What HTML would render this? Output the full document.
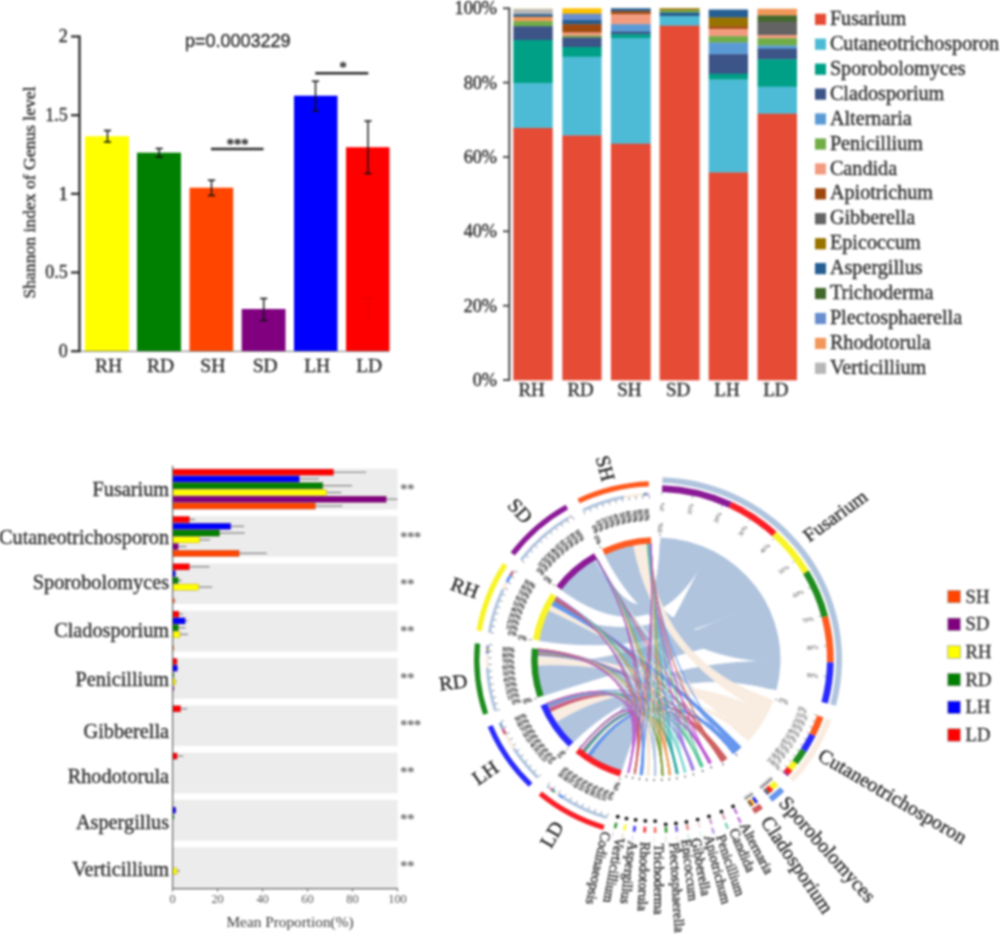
<!DOCTYPE html>
<html lang="en"><head><meta charset="utf-8"><title>Fungal community figure</title>
<style>
html,body{margin:0;padding:0;background:#fff;}
body{width:1000px;height:937px;overflow:hidden;}
svg{display:block;font-family:"Liberation Serif", serif;filter:blur(0.8px);}
#panelA text,#panelB text,#panelC text,#legendD text,#chord text.lab{stroke:#2a2a2a;stroke-width:0.36px;}
#panelC text.thin{stroke:none;}
</style></head><body>
<svg width="1000" height="937" viewBox="0 0 1000 937">
<rect width="1000" height="937" fill="#fff"/>
<g id="panelA">
<rect x="85" y="136.2" width="44.0" height="215.0" fill="#ffff00"/>
<rect x="137" y="152.7" width="44.0" height="198.5" fill="#008000"/>
<rect x="189.5" y="187.7" width="43.7" height="163.5" fill="#ff4500"/>
<rect x="241.7" y="309" width="43.8" height="42.2" fill="#800080"/>
<rect x="294" y="95.7" width="43.5" height="255.5" fill="#0000ff"/>
<rect x="346" y="147.2" width="43.5" height="204.0" fill="#ff0000"/>
<line x1="80" y1="351.3" x2="389.5" y2="351.3" stroke="#777" stroke-width="1"/>
<path d="M362.5 298.5H373.5M368 298.5V320" stroke="#e00000" stroke-width="1" fill="none"/>
<path d="M103.9 130.5H111.1M107.5 130.5V142M103.9 142H111.1" stroke="#111" stroke-width="1.4" fill="none"/>
<text x="108.5" y="372.3" font-size="19.5" text-anchor="middle" fill="#2a2a2a">RH</text>
<path d="M155.6 148.5H162.79999999999998M159.2 148.5V157M155.6 157H162.79999999999998" stroke="#111" stroke-width="1.4" fill="none"/>
<text x="160.5" y="372.3" font-size="19.5" text-anchor="middle" fill="#2a2a2a">RD</text>
<path d="M207.9 180.2H215.1M211.5 180.2V195.5M207.9 195.5H215.1" stroke="#111" stroke-width="1.4" fill="none"/>
<text x="212.8" y="372.3" font-size="19.5" text-anchor="middle" fill="#2a2a2a">SH</text>
<path d="M260.09999999999997 298.5H267.3M263.7 298.5V320.5M260.09999999999997 320.5H267.3" stroke="#111" stroke-width="1.4" fill="none"/>
<text x="265.1" y="372.3" font-size="19.5" text-anchor="middle" fill="#2a2a2a">SD</text>
<path d="M311.9 81.2H319.1M315.5 81.2V110.8M311.9 110.8H319.1" stroke="#111" stroke-width="1.4" fill="none"/>
<text x="317.2" y="372.3" font-size="19.5" text-anchor="middle" fill="#2a2a2a">LH</text>
<path d="M364.4 121H371.6M368 121V173.5M364.4 173.5H371.6" stroke="#111" stroke-width="1.4" fill="none"/>
<text x="369.2" y="372.3" font-size="19.5" text-anchor="middle" fill="#2a2a2a">LD</text>
<line x1="79.5" y1="35.4" x2="79.5" y2="352.3" stroke="#2a2a2a" stroke-width="2.3"/>
<line x1="71" y1="36.5" x2="79.5" y2="36.5" stroke="#2a2a2a" stroke-width="2.2"/>
<text x="67.8" y="42.3" font-size="18" text-anchor="end" fill="#2a2a2a">2</text>
<line x1="71" y1="115.2" x2="79.5" y2="115.2" stroke="#2a2a2a" stroke-width="2.2"/>
<text x="67.8" y="121.0" font-size="18" text-anchor="end" fill="#2a2a2a">1.5</text>
<line x1="71" y1="193.8" x2="79.5" y2="193.8" stroke="#2a2a2a" stroke-width="2.2"/>
<text x="67.8" y="199.6" font-size="18" text-anchor="end" fill="#2a2a2a">1</text>
<line x1="71" y1="272.5" x2="79.5" y2="272.5" stroke="#2a2a2a" stroke-width="2.2"/>
<text x="67.8" y="278.3" font-size="18" text-anchor="end" fill="#2a2a2a">0.5</text>
<line x1="71" y1="351.2" x2="79.5" y2="351.2" stroke="#2a2a2a" stroke-width="2.2"/>
<text x="67.8" y="357.0" font-size="18" text-anchor="end" fill="#2a2a2a">0</text>
<text transform="translate(35.3 192.5) rotate(-90)" font-size="17.6" text-anchor="middle" fill="#2a2a2a">Shannon index of Genus level</text>
<text x="185" y="47" font-size="18" font-family='"Liberation Sans", sans-serif' fill="#2a2a2a">p=0.0003229</text>
<line x1="211" y1="149" x2="263.5" y2="149" stroke="#2a2a2a" stroke-width="2.4"/>
<text x="237.5" y="149.2" font-size="14.5" text-anchor="middle" fill="#444" font-weight="bold">***</text>
<line x1="315.3" y1="73.3" x2="368.3" y2="73.3" stroke="#2a2a2a" stroke-width="2.4"/>
<text x="343.2" y="71.6" font-size="14.5" text-anchor="middle" fill="#444" font-weight="bold">*</text>
</g>
<g id="panelB">
<rect x="513.3" y="8.3" width="39.4" height="1.2" fill="#f3e3b0"/>
<rect x="513.3" y="9.2" width="39.4" height="5.3" fill="#B7B7B7"/>
<rect x="513.3" y="14.2" width="39.4" height="2.8" fill="#255E91"/>
<rect x="513.3" y="16.7" width="39.4" height="4.8" fill="#F1975A"/>
<rect x="513.3" y="21.2" width="39.4" height="5.3" fill="#70AD47"/>
<rect x="513.3" y="26.2" width="39.4" height="14.1" fill="#3C5488"/>
<rect x="513.3" y="40" width="39.4" height="43.5" fill="#00A087"/>
<rect x="513.3" y="83.2" width="39.4" height="45.1" fill="#4DBBD5"/>
<rect x="513.3" y="128" width="39.4" height="252.3" fill="#E64B35"/>
<text x="531.6" y="396.3" font-size="19" text-anchor="middle" fill="#2c2c2c">RH</text>
<rect x="562.3" y="8.3" width="39.3" height="5.7" fill="#FFC000"/>
<rect x="562.3" y="13.7" width="39.3" height="6.6" fill="#698ED0"/>
<rect x="562.3" y="20" width="39.3" height="4.5" fill="#255E91"/>
<rect x="562.3" y="24.2" width="39.3" height="8.6" fill="#9E480E"/>
<rect x="562.3" y="32.5" width="39.3" height="3.5" fill="#F39B7F"/>
<rect x="562.3" y="35.7" width="39.3" height="2.1" fill="#70AD47"/>
<rect x="562.3" y="37.5" width="39.3" height="9.8" fill="#3C5488"/>
<rect x="562.3" y="47" width="39.3" height="10.0" fill="#00A087"/>
<rect x="562.3" y="56.7" width="39.3" height="79.1" fill="#4DBBD5"/>
<rect x="562.3" y="135.5" width="39.3" height="244.8" fill="#E64B35"/>
<text x="580.6" y="396.3" font-size="19" text-anchor="middle" fill="#2c2c2c">RD</text>
<rect x="610.9" y="8.3" width="39.8" height="3.2" fill="#255E91"/>
<rect x="610.9" y="11.2" width="39.8" height="3.3" fill="#9E480E"/>
<rect x="610.9" y="14.2" width="39.8" height="10.3" fill="#F39B7F"/>
<rect x="610.9" y="24.2" width="39.8" height="7.8" fill="#5B9BD5"/>
<rect x="610.9" y="31.7" width="39.8" height="2.8" fill="#3C5488"/>
<rect x="610.9" y="34.2" width="39.8" height="4.1" fill="#00A087"/>
<rect x="610.9" y="38" width="39.8" height="106.0" fill="#4DBBD5"/>
<rect x="610.9" y="143.7" width="39.8" height="236.6" fill="#E64B35"/>
<text x="629.4" y="396.3" font-size="19" text-anchor="middle" fill="#2c2c2c">SH</text>
<rect x="659.6" y="8.3" width="40.0" height="2.4" fill="#997300"/>
<rect x="659.6" y="10.4" width="40.0" height="2.4" fill="#70AD47"/>
<rect x="659.6" y="12.5" width="40.0" height="4.0" fill="#255E91"/>
<rect x="659.6" y="16.2" width="40.0" height="9.8" fill="#4DBBD5"/>
<rect x="659.6" y="25.7" width="40.0" height="354.6" fill="#E64B35"/>
<text x="678.2" y="396.3" font-size="19" text-anchor="middle" fill="#2c2c2c">SD</text>
<rect x="708.7" y="9.5" width="39.3" height="8.3" fill="#255E91"/>
<rect x="708.7" y="17.5" width="39.3" height="9.0" fill="#997300"/>
<rect x="708.7" y="26.2" width="39.3" height="2.8" fill="#9E480E"/>
<rect x="708.7" y="28.7" width="39.3" height="7.8" fill="#F39B7F"/>
<rect x="708.7" y="36.2" width="39.3" height="6.6" fill="#70AD47"/>
<rect x="708.7" y="42.5" width="39.3" height="12.0" fill="#5B9BD5"/>
<rect x="708.7" y="54.2" width="39.3" height="19.8" fill="#3C5488"/>
<rect x="708.7" y="73.7" width="39.3" height="6.1" fill="#00A087"/>
<rect x="708.7" y="79.5" width="39.3" height="93.3" fill="#4DBBD5"/>
<rect x="708.7" y="172.5" width="39.3" height="207.8" fill="#E64B35"/>
<text x="727.0" y="396.3" font-size="19" text-anchor="middle" fill="#2c2c2c">LH</text>
<rect x="757.5" y="8.7" width="39.5" height="7.1" fill="#F1975A"/>
<rect x="757.5" y="15.5" width="39.5" height="6.5" fill="#43682B"/>
<rect x="757.5" y="21.7" width="39.5" height="13.6" fill="#636363"/>
<rect x="757.5" y="35" width="39.5" height="3.5" fill="#F39B7F"/>
<rect x="757.5" y="38.2" width="39.5" height="7.6" fill="#70AD47"/>
<rect x="757.5" y="45.5" width="39.5" height="3.5" fill="#5B9BD5"/>
<rect x="757.5" y="48.7" width="39.5" height="10.8" fill="#3C5488"/>
<rect x="757.5" y="59.2" width="39.5" height="27.8" fill="#00A087"/>
<rect x="757.5" y="86.7" width="39.5" height="27.3" fill="#4DBBD5"/>
<rect x="757.5" y="113.7" width="39.5" height="266.6" fill="#E64B35"/>
<text x="775.9" y="396.3" font-size="19" text-anchor="middle" fill="#2c2c2c">LD</text>
<line x1="509.3" y1="7.4" x2="509.3" y2="380.9" stroke="#4a4a4a" stroke-width="2"/>
<line x1="503" y1="8.3" x2="509.5" y2="8.3" stroke="#4a4a4a" stroke-width="1.9"/>
<text x="497" y="14.2" font-size="18.2" text-anchor="end" fill="#2c2c2c">100%</text>
<line x1="503" y1="82.6" x2="509.5" y2="82.6" stroke="#4a4a4a" stroke-width="1.9"/>
<text x="497" y="88.5" font-size="18.2" text-anchor="end" fill="#2c2c2c">80%</text>
<line x1="503" y1="157.0" x2="509.5" y2="157.0" stroke="#4a4a4a" stroke-width="1.9"/>
<text x="497" y="162.9" font-size="18.2" text-anchor="end" fill="#2c2c2c">60%</text>
<line x1="503" y1="231.3" x2="509.5" y2="231.3" stroke="#4a4a4a" stroke-width="1.9"/>
<text x="497" y="237.2" font-size="18.2" text-anchor="end" fill="#2c2c2c">40%</text>
<line x1="503" y1="305.7" x2="509.5" y2="305.7" stroke="#4a4a4a" stroke-width="1.9"/>
<text x="497" y="311.6" font-size="18.2" text-anchor="end" fill="#2c2c2c">20%</text>
<line x1="503" y1="380.0" x2="509.5" y2="380.0" stroke="#4a4a4a" stroke-width="1.9"/>
<text x="497" y="385.9" font-size="18.2" text-anchor="end" fill="#2c2c2c">0%</text>
<rect x="815" y="13.7" width="11" height="11.2" fill="#E64B35"/>
<text x="829.9" y="24.9" font-size="20.2" fill="#2e2e2e">Fusarium</text>
<rect x="815" y="38.6" width="11" height="11.2" fill="#4DBBD5"/>
<text x="829.9" y="49.8" font-size="20.2" fill="#2e2e2e">Cutaneotrichosporon</text>
<rect x="815" y="63.6" width="11" height="11.2" fill="#00A087"/>
<text x="829.9" y="74.8" font-size="20.2" fill="#2e2e2e">Sporobolomyces</text>
<rect x="815" y="88.5" width="11" height="11.2" fill="#3C5488"/>
<text x="829.9" y="99.7" font-size="20.2" fill="#2e2e2e">Cladosporium</text>
<rect x="815" y="113.4" width="11" height="11.2" fill="#5B9BD5"/>
<text x="829.9" y="124.6" font-size="20.2" fill="#2e2e2e">Alternaria</text>
<rect x="815" y="138.4" width="11" height="11.2" fill="#70AD47"/>
<text x="829.9" y="149.6" font-size="20.2" fill="#2e2e2e">Penicillium</text>
<rect x="815" y="163.3" width="11" height="11.2" fill="#F39B7F"/>
<text x="829.9" y="174.5" font-size="20.2" fill="#2e2e2e">Candida</text>
<rect x="815" y="188.2" width="11" height="11.2" fill="#9E480E"/>
<text x="829.9" y="199.4" font-size="20.2" fill="#2e2e2e">Apiotrichum</text>
<rect x="815" y="213.1" width="11" height="11.2" fill="#636363"/>
<text x="829.9" y="224.3" font-size="20.2" fill="#2e2e2e">Gibberella</text>
<rect x="815" y="238.1" width="11" height="11.2" fill="#997300"/>
<text x="829.9" y="249.3" font-size="20.2" fill="#2e2e2e">Epicoccum</text>
<rect x="815" y="263.0" width="11" height="11.2" fill="#255E91"/>
<text x="829.9" y="274.2" font-size="20.2" fill="#2e2e2e">Aspergillus</text>
<rect x="815" y="287.9" width="11" height="11.2" fill="#43682B"/>
<text x="829.9" y="299.1" font-size="20.2" fill="#2e2e2e">Trichoderma</text>
<rect x="815" y="312.9" width="11" height="11.2" fill="#698ED0"/>
<text x="829.9" y="324.1" font-size="20.2" fill="#2e2e2e">Plectosphaerella</text>
<rect x="815" y="337.8" width="11" height="11.2" fill="#F1975A"/>
<text x="829.9" y="349.0" font-size="20.2" fill="#2e2e2e">Rhodotorula</text>
<rect x="815" y="362.7" width="11" height="11.2" fill="#B7B7B7"/>
<text x="829.9" y="373.9" font-size="20.2" fill="#2e2e2e">Verticillium</text>
</g>
<g id="panelC">
<rect x="172.6" y="468.8" width="225.0" height="40.6" fill="#ececec"/>
<line x1="333.6" y1="472.2" x2="366.2" y2="472.2" stroke="#777" stroke-width="1.1"/>
<rect x="172.6" y="469.1" width="161.0" height="6.2" fill="#ff0000" stroke="#6b2a2a" stroke-opacity="0.45" stroke-width="0.5"/>
<line x1="299.4" y1="478.9" x2="319.0" y2="478.9" stroke="#777" stroke-width="1.1"/>
<rect x="172.6" y="475.9" width="126.8" height="6.2" fill="#0000ff" stroke="#6b2a2a" stroke-opacity="0.45" stroke-width="0.5"/>
<line x1="322.8" y1="485.7" x2="352.1" y2="485.7" stroke="#777" stroke-width="1.1"/>
<rect x="172.6" y="482.6" width="150.2" height="6.2" fill="#008000" stroke="#6b2a2a" stroke-opacity="0.45" stroke-width="0.5"/>
<line x1="326.4" y1="492.5" x2="341.3" y2="492.5" stroke="#777" stroke-width="1.1"/>
<rect x="172.6" y="489.4" width="153.8" height="6.2" fill="#ffff00" stroke="#6b2a2a" stroke-opacity="0.45" stroke-width="0.5"/>
<line x1="386.3" y1="499.2" x2="397.5" y2="499.2" stroke="#777" stroke-width="1.1"/>
<rect x="172.6" y="496.2" width="213.7" height="6.2" fill="#800080" stroke="#6b2a2a" stroke-opacity="0.45" stroke-width="0.5"/>
<line x1="315.4" y1="506.0" x2="342.4" y2="506.0" stroke="#777" stroke-width="1.1"/>
<rect x="172.6" y="502.9" width="142.8" height="6.2" fill="#ff4500" stroke="#6b2a2a" stroke-opacity="0.45" stroke-width="0.5"/>
<text x="169.1" y="496.1" font-size="20.3" text-anchor="end" fill="#333">Fusarium</text>
<text class="thin" x="400.3" y="494.4" font-size="14.5" fill="#6a6a6a" letter-spacing="-0.4" font-weight="bold">**</text>
<rect x="172.6" y="516.1" width="225.0" height="40.6" fill="#ececec"/>
<line x1="189.5" y1="519.5" x2="195.1" y2="519.5" stroke="#777" stroke-width="1.1"/>
<rect x="172.6" y="516.4" width="16.9" height="6.2" fill="#ff0000" stroke="#6b2a2a" stroke-opacity="0.45" stroke-width="0.5"/>
<line x1="230.8" y1="526.3" x2="244.1" y2="526.3" stroke="#777" stroke-width="1.1"/>
<rect x="172.6" y="523.2" width="58.2" height="6.2" fill="#0000ff" stroke="#6b2a2a" stroke-opacity="0.45" stroke-width="0.5"/>
<line x1="219.6" y1="533.0" x2="244.8" y2="533.0" stroke="#777" stroke-width="1.1"/>
<rect x="172.6" y="530.0" width="47.0" height="6.2" fill="#008000" stroke="#6b2a2a" stroke-opacity="0.45" stroke-width="0.5"/>
<line x1="199.6" y1="539.8" x2="210.2" y2="539.8" stroke="#777" stroke-width="1.1"/>
<rect x="172.6" y="536.7" width="27.0" height="6.2" fill="#ffff00" stroke="#6b2a2a" stroke-opacity="0.45" stroke-width="0.5"/>
<line x1="178.2" y1="546.6" x2="186.5" y2="546.6" stroke="#777" stroke-width="1.1"/>
<rect x="172.6" y="543.5" width="5.6" height="6.2" fill="#800080" stroke="#6b2a2a" stroke-opacity="0.45" stroke-width="0.5"/>
<line x1="239.2" y1="553.3" x2="266.8" y2="553.3" stroke="#777" stroke-width="1.1"/>
<rect x="172.6" y="550.3" width="66.6" height="6.2" fill="#ff4500" stroke="#6b2a2a" stroke-opacity="0.45" stroke-width="0.5"/>
<text x="169.1" y="544.3" font-size="20.3" text-anchor="end" fill="#333">Cutaneotrichosporon</text>
<text class="thin" x="400.3" y="541.5" font-size="14.5" fill="#6a6a6a" letter-spacing="-0.4" font-weight="bold">***</text>
<rect x="172.6" y="563.4" width="225.0" height="40.6" fill="#ececec"/>
<line x1="189.5" y1="566.8" x2="209.5" y2="566.8" stroke="#777" stroke-width="1.1"/>
<rect x="172.6" y="563.7" width="16.9" height="6.2" fill="#ff0000" stroke="#6b2a2a" stroke-opacity="0.45" stroke-width="0.5"/>
<line x1="175.3" y1="573.6" x2="176.4" y2="573.6" stroke="#777" stroke-width="1.1"/>
<rect x="172.6" y="570.5" width="2.7" height="6.2" fill="#0000ff" stroke="#6b2a2a" stroke-opacity="0.45" stroke-width="0.5"/>
<line x1="178.2" y1="580.4" x2="181.8" y2="580.4" stroke="#777" stroke-width="1.1"/>
<rect x="172.6" y="577.3" width="5.6" height="6.2" fill="#008000" stroke="#6b2a2a" stroke-opacity="0.45" stroke-width="0.5"/>
<line x1="198.7" y1="587.1" x2="212.2" y2="587.1" stroke="#777" stroke-width="1.1"/>
<rect x="172.6" y="584.0" width="26.1" height="6.2" fill="#ffff00" stroke="#6b2a2a" stroke-opacity="0.45" stroke-width="0.5"/>
<line x1="174.6" y1="600.7" x2="175.7" y2="600.7" stroke="#777" stroke-width="1.1"/>
<rect x="172.6" y="598.3" width="2.0" height="4.8" fill="#ff4500" opacity="0.85"/>
<text x="169.1" y="588.7" font-size="20.3" text-anchor="end" fill="#333">Sporobolomyces</text>
<text class="thin" x="400.3" y="588.5" font-size="14.5" fill="#6a6a6a" letter-spacing="-0.4" font-weight="bold">**</text>
<rect x="172.6" y="610.8" width="225.0" height="40.6" fill="#ececec"/>
<line x1="178.9" y1="614.1" x2="182.9" y2="614.1" stroke="#777" stroke-width="1.1"/>
<rect x="172.6" y="611.1" width="6.3" height="6.2" fill="#ff0000" stroke="#6b2a2a" stroke-opacity="0.45" stroke-width="0.5"/>
<line x1="185.2" y1="620.9" x2="188.1" y2="620.9" stroke="#777" stroke-width="1.1"/>
<rect x="172.6" y="617.8" width="12.6" height="6.2" fill="#0000ff" stroke="#6b2a2a" stroke-opacity="0.45" stroke-width="0.5"/>
<line x1="178.4" y1="627.7" x2="185.6" y2="627.7" stroke="#777" stroke-width="1.1"/>
<rect x="172.6" y="624.6" width="5.8" height="6.2" fill="#008000" stroke="#6b2a2a" stroke-opacity="0.45" stroke-width="0.5"/>
<line x1="180.0" y1="634.4" x2="187.9" y2="634.4" stroke="#777" stroke-width="1.1"/>
<rect x="172.6" y="631.4" width="7.4" height="6.2" fill="#ffff00" stroke="#6b2a2a" stroke-opacity="0.45" stroke-width="0.5"/>
<rect x="172.6" y="645.6" width="1.3" height="4.8" fill="#ff4500" opacity="0.85"/>
<text x="169.1" y="636.5" font-size="20.3" text-anchor="end" fill="#333">Cladosporium</text>
<text class="thin" x="400.3" y="635.6" font-size="14.5" fill="#6a6a6a" letter-spacing="-0.4" font-weight="bold">**</text>
<rect x="172.6" y="658.1" width="225.0" height="40.6" fill="#ececec"/>
<line x1="176.9" y1="661.5" x2="178.0" y2="661.5" stroke="#777" stroke-width="1.1"/>
<rect x="172.6" y="658.4" width="4.3" height="6.2" fill="#ff0000" stroke="#6b2a2a" stroke-opacity="0.45" stroke-width="0.5"/>
<line x1="177.3" y1="668.2" x2="178.4" y2="668.2" stroke="#777" stroke-width="1.1"/>
<rect x="172.6" y="665.1" width="4.7" height="6.2" fill="#0000ff" stroke="#6b2a2a" stroke-opacity="0.45" stroke-width="0.5"/>
<line x1="173.9" y1="675.0" x2="174.8" y2="675.0" stroke="#777" stroke-width="1.1"/>
<rect x="172.6" y="672.6" width="1.3" height="4.8" fill="#008000" opacity="0.85"/>
<line x1="175.5" y1="681.8" x2="176.6" y2="681.8" stroke="#777" stroke-width="1.1"/>
<rect x="172.6" y="678.7" width="2.9" height="6.2" fill="#ffff00" stroke="#6b2a2a" stroke-opacity="0.45" stroke-width="0.5"/>
<line x1="173.7" y1="688.5" x2="174.6" y2="688.5" stroke="#777" stroke-width="1.1"/>
<rect x="172.6" y="686.1" width="1.2" height="4.8" fill="#800080" opacity="0.85"/>
<text x="169.1" y="686.1" font-size="20.3" text-anchor="end" fill="#333">Penicillium</text>
<text class="thin" x="400.3" y="682.7" font-size="14.5" fill="#6a6a6a" letter-spacing="-0.4" font-weight="bold">**</text>
<rect x="172.6" y="705.4" width="225.0" height="40.6" fill="#ececec"/>
<line x1="180.7" y1="708.8" x2="187.2" y2="708.8" stroke="#777" stroke-width="1.1"/>
<rect x="172.6" y="705.7" width="8.1" height="6.2" fill="#ff0000" stroke="#6b2a2a" stroke-opacity="0.45" stroke-width="0.5"/>
<text x="169.1" y="737.6" font-size="20.3" text-anchor="end" fill="#333">Gibberella</text>
<text class="thin" x="400.3" y="729.7" font-size="14.5" fill="#6a6a6a" letter-spacing="-0.4" font-weight="bold">***</text>
<rect x="172.6" y="752.7" width="225.0" height="40.6" fill="#ececec"/>
<line x1="177.1" y1="756.1" x2="183.2" y2="756.1" stroke="#777" stroke-width="1.1"/>
<rect x="172.6" y="753.0" width="4.5" height="6.2" fill="#ff0000" stroke="#6b2a2a" stroke-opacity="0.45" stroke-width="0.5"/>
<text x="169.1" y="782.9" font-size="20.3" text-anchor="end" fill="#333">Rhodotorula</text>
<text class="thin" x="400.3" y="776.8" font-size="14.5" fill="#6a6a6a" letter-spacing="-0.4" font-weight="bold">**</text>
<rect x="172.6" y="800.0" width="225.0" height="40.6" fill="#ececec"/>
<line x1="175.7" y1="810.2" x2="176.6" y2="810.2" stroke="#777" stroke-width="1.1"/>
<rect x="172.6" y="807.1" width="3.1" height="6.2" fill="#0000ff" stroke="#6b2a2a" stroke-opacity="0.45" stroke-width="0.5"/>
<line x1="173.9" y1="817.0" x2="174.8" y2="817.0" stroke="#777" stroke-width="1.1"/>
<rect x="172.6" y="814.6" width="1.3" height="4.8" fill="#008000" opacity="0.85"/>
<text x="169.1" y="828.5" font-size="20.3" text-anchor="end" fill="#333">Aspergillus</text>
<text class="thin" x="400.3" y="823.9" font-size="14.5" fill="#6a6a6a" letter-spacing="-0.4" font-weight="bold">**</text>
<rect x="172.6" y="847.4" width="225.0" height="40.6" fill="#ececec"/>
<line x1="177.1" y1="871.0" x2="179.8" y2="871.0" stroke="#777" stroke-width="1.1"/>
<rect x="172.6" y="868.0" width="4.5" height="6.2" fill="#ffff00" stroke="#6b2a2a" stroke-opacity="0.45" stroke-width="0.5"/>
<text x="169.1" y="876.4" font-size="20.3" text-anchor="end" fill="#333">Verticillium</text>
<text class="thin" x="400.3" y="871.0" font-size="14.5" fill="#6a6a6a" letter-spacing="-0.4" font-weight="bold">**</text>
<line x1="172.6" y1="465.5" x2="172.6" y2="888.6" stroke="#666" stroke-width="1.2"/>
<line x1="172.0" y1="888.6" x2="397.8" y2="888.6" stroke="#666" stroke-width="1.2"/>
<line x1="172.6" y1="888.6" x2="172.6" y2="891.6" stroke="#666" stroke-width="1"/>
<text class="thin" x="172.6" y="903" font-size="12.3" text-anchor="middle" fill="#555">0</text>
<line x1="217.6" y1="888.6" x2="217.6" y2="891.6" stroke="#666" stroke-width="1"/>
<text class="thin" x="217.6" y="903" font-size="12.3" text-anchor="middle" fill="#555">20</text>
<line x1="262.6" y1="888.6" x2="262.6" y2="891.6" stroke="#666" stroke-width="1"/>
<text class="thin" x="262.6" y="903" font-size="12.3" text-anchor="middle" fill="#555">40</text>
<line x1="307.5" y1="888.6" x2="307.5" y2="891.6" stroke="#666" stroke-width="1"/>
<text class="thin" x="307.5" y="903" font-size="12.3" text-anchor="middle" fill="#555">60</text>
<line x1="352.5" y1="888.6" x2="352.5" y2="891.6" stroke="#666" stroke-width="1"/>
<text class="thin" x="352.5" y="903" font-size="12.3" text-anchor="middle" fill="#555">80</text>
<line x1="397.5" y1="888.6" x2="397.5" y2="891.6" stroke="#666" stroke-width="1"/>
<text class="thin" x="397.5" y="903" font-size="12.3" text-anchor="middle" fill="#555">100</text>
<text class="thin" x="290" y="927.3" font-size="15.3" text-anchor="middle" fill="#3a3a3a">Mean Proportion(%)</text>
</g>
<g id="chord">
<g transform="translate(656.0 659.4) scale(1 0.98)">
<path d="M-51.25 -106.96A118.6 118.6 0 0 1 -22.50 -116.45C-7.88 -40.76 40.19 -10.40 114.82 -29.72A118.6 118.6 0 0 1 118.58 2.09C41.50 0.73 -17.94 -37.44 -51.25 -106.96Z" fill="#b0c4de" fill-opacity="1" stroke="#b0c4de" stroke-width="1.0"/>
<path d="M-94.84 -71.21A118.6 118.6 0 0 1 -61.29 -101.53C-21.45 -35.54 1.45 -41.48 4.14 -118.53A118.6 118.6 0 0 1 50.54 -107.29C17.69 -37.55 -33.19 -24.92 -94.84 -71.21Z" fill="#b0c4de" fill-opacity="1" stroke="#b0c4de" stroke-width="1.0"/>
<path d="M-117.01 -19.37A118.6 118.6 0 0 1 -107.38 -50.34C-37.58 -17.62 28.17 -30.49 80.47 -87.12A118.6 118.6 0 0 1 102.03 -60.46C35.71 -21.16 -40.95 -6.78 -117.01 -19.37Z" fill="#b0c4de" fill-opacity="1" stroke="#b0c4de" stroke-width="1.0"/>
<path d="M-112.73 36.85A118.6 118.6 0 0 1 -118.45 5.92C-41.46 2.07 35.71 -21.16 102.03 -60.46A118.6 118.6 0 0 1 114.82 -29.72C40.19 -10.40 -39.46 12.90 -112.73 36.85Z" fill="#b0c4de" fill-opacity="1" stroke="#b0c4de" stroke-width="1.0"/>
<path d="M-82.98 84.74A118.6 118.6 0 0 1 -99.91 63.91C-34.97 22.37 41.50 0.73 118.58 2.09A118.6 118.6 0 0 1 114.72 30.10C40.15 10.53 -29.04 29.66 -82.98 84.74Z" fill="#b0c4de" fill-opacity="1" stroke="#b0c4de" stroke-width="1.0"/>
<path d="M-34.48 113.48A118.6 118.6 0 0 1 -65.37 98.96C-22.88 34.63 17.69 -37.55 50.54 -107.29A118.6 118.6 0 0 1 80.47 -87.12C28.17 -30.49 -12.07 39.72 -34.48 113.48Z" fill="#b0c4de" fill-opacity="1" stroke="#b0c4de" stroke-width="1.0"/>
<path d="M-22.50 -116.45A118.6 118.6 0 0 1 -9.01 -118.26C-3.15 -41.39 39.13 13.86 111.80 39.59A118.6 118.6 0 0 1 106.40 52.40C37.24 18.34 -7.88 -40.76 -22.50 -116.45Z" fill="#f9ece0" fill-opacity="1" stroke="#f9ece0" stroke-width="1.0"/>
<path d="M-61.29 -101.53A118.6 118.6 0 0 1 -60.27 -102.15C-21.09 -35.75 31.04 27.57 88.67 78.76A118.6 118.6 0 0 1 87.86 79.67C30.75 27.88 -21.45 -35.54 -61.29 -101.53Z" fill="#f9ece0" fill-opacity="1" stroke="#f9ece0" stroke-width="1.0"/>
<path d="M-107.38 -50.34A118.6 118.6 0 0 1 -104.82 -55.48C-36.69 -19.42 33.12 25.02 94.64 71.48A118.6 118.6 0 0 1 91.00 76.06C31.85 26.62 -37.58 -17.62 -107.38 -50.34Z" fill="#f9ece0" fill-opacity="1" stroke="#f9ece0" stroke-width="1.0"/>
<path d="M-118.45 5.92A118.6 118.6 0 0 1 -118.53 -4.12C-41.48 -1.44 35.16 22.07 100.46 63.04A118.6 118.6 0 0 1 94.64 71.48C33.12 25.02 -41.46 2.07 -118.45 5.92Z" fill="#f9ece0" fill-opacity="1" stroke="#f9ece0" stroke-width="1.0"/>
<path d="M-99.91 63.91A118.6 118.6 0 0 1 -105.86 53.48C-37.05 18.72 37.24 18.34 106.40 52.40A118.6 118.6 0 0 1 100.46 63.04C35.16 22.07 -34.97 22.37 -99.91 63.91Z" fill="#f9ece0" fill-opacity="1" stroke="#f9ece0" stroke-width="1.0"/>
<path d="M-68.30 96.96A118.6 118.6 0 0 1 -71.12 94.91C-24.89 33.22 31.85 26.62 91.00 76.06A118.6 118.6 0 0 1 88.67 78.76C31.04 27.57 -23.90 33.94 -68.30 96.96Z" fill="#f9ece0" fill-opacity="1" stroke="#f9ece0" stroke-width="1.0"/>
<path d="M-6.76 -118.41A118.6 118.6 0 0 1 -6.29 -118.43C-2.20 -41.45 27.16 33.63 77.59 96.08A123.5 123.5 0 0 1 77.25 96.36C27.04 33.72 -2.37 -41.44 -6.76 -118.41Z" fill="#6495ed" fill-opacity="1" stroke="#6495ed" stroke-width="0.75"/>
<path d="M-59.36 -102.68A118.6 118.6 0 0 1 -59.31 -102.70C-20.76 -35.95 27.04 33.72 77.25 96.36A123.5 123.5 0 0 1 77.22 96.38C27.03 33.73 -20.77 -35.94 -59.36 -102.68Z" fill="#6495ed" fill-opacity="1" stroke="#6495ed" stroke-width="0.6"/>
<path d="M-104.82 -55.48A118.6 118.6 0 0 1 -102.11 -60.32C-35.74 -21.11 29.81 31.30 85.17 89.44A123.5 123.5 0 0 1 81.43 92.85C28.50 32.50 -36.69 -19.42 -104.82 -55.48Z" fill="#6495ed" fill-opacity="1" stroke="#6495ed" stroke-width="0.75"/>
<path d="M-118.53 -4.12A118.6 118.6 0 0 1 -118.48 -5.36C-41.47 -1.88 27.64 33.23 78.98 94.95A123.5 123.5 0 0 1 78.10 95.67C27.33 33.48 -41.48 -1.44 -118.53 -4.12Z" fill="#6495ed" fill-opacity="1" stroke="#6495ed" stroke-width="0.75"/>
<path d="M-109.19 46.29A118.6 118.6 0 0 1 -109.47 45.63C-38.32 15.97 27.33 33.48 78.10 95.67A123.5 123.5 0 0 1 77.59 96.08C27.16 33.63 -38.22 16.20 -109.19 46.29Z" fill="#6495ed" fill-opacity="1" stroke="#6495ed" stroke-width="0.75"/>
<path d="M-65.37 98.96A118.6 118.6 0 0 1 -68.30 96.96C-23.90 33.94 28.50 32.50 81.43 92.85A123.5 123.5 0 0 1 78.98 94.95C27.64 33.23 -22.88 34.63 -65.37 98.96Z" fill="#6495ed" fill-opacity="1" stroke="#6495ed" stroke-width="0.75"/>
<path d="M-5.52 -118.47A118.6 118.6 0 0 1 -5.19 -118.49C-1.82 -41.47 23.10 36.54 65.99 104.39A123.5 123.5 0 0 1 65.74 104.55C23.01 36.59 -1.93 -41.46 -5.52 -118.47Z" fill="#cd5c5c" fill-opacity="1" stroke="#cd5c5c" stroke-width="0.75"/>
<path d="M-59.48 -102.61A118.6 118.6 0 0 1 -59.36 -102.68C-20.77 -35.94 23.01 36.59 65.74 104.55A123.5 123.5 0 0 1 65.63 104.62C22.97 36.62 -20.82 -35.91 -59.48 -102.61Z" fill="#cd5c5c" fill-opacity="1" stroke="#cd5c5c" stroke-width="0.75"/>
<path d="M-102.11 -60.32A118.6 118.6 0 0 1 -101.20 -61.84C-35.42 -21.64 24.22 35.80 69.19 102.30A123.5 123.5 0 0 1 67.88 103.17C23.76 36.11 -35.74 -21.11 -102.11 -60.32Z" fill="#cd5c5c" fill-opacity="1" stroke="#cd5c5c" stroke-width="0.75"/>
<path d="M-118.48 -5.36A118.6 118.6 0 0 1 -118.42 -6.55C-41.45 -2.29 23.41 36.34 66.88 103.82A123.5 123.5 0 0 1 65.99 104.39C23.10 36.54 -41.47 -1.88 -118.48 -5.36Z" fill="#cd5c5c" fill-opacity="1" stroke="#cd5c5c" stroke-width="0.75"/>
<path d="M-105.86 53.48A118.6 118.6 0 0 1 -106.96 51.24C-37.44 17.93 24.85 35.36 71.01 101.04A123.5 123.5 0 0 1 69.19 102.30C24.22 35.80 -37.05 18.72 -105.86 53.48Z" fill="#cd5c5c" fill-opacity="1" stroke="#cd5c5c" stroke-width="0.75"/>
<path d="M-72.50 93.86A118.6 118.6 0 0 1 -73.55 93.04C-25.74 32.56 23.76 36.11 67.88 103.17A123.5 123.5 0 0 1 66.88 103.82C23.41 36.34 -25.37 32.85 -72.50 93.86Z" fill="#cd5c5c" fill-opacity="1" stroke="#cd5c5c" stroke-width="0.75"/>
<path d="M-7.72 -118.35A118.6 118.6 0 0 1 -6.76 -118.41C-2.37 -41.44 19.02 36.98 54.34 105.64A118.8 118.8 0 0 1 53.61 106.02C18.76 37.11 -2.70 -41.42 -7.72 -118.35Z" fill="#ba55d3" fill-opacity="1" stroke="#ba55d3" stroke-width="0.75"/>
<path d="M-59.31 -102.70A118.6 118.6 0 0 1 -59.27 -102.73C-20.75 -35.95 18.60 37.19 53.14 106.25A118.8 118.8 0 0 1 53.10 106.27C18.59 37.20 -20.76 -35.95 -59.31 -102.70Z" fill="#ba55d3" fill-opacity="1" stroke="#ba55d3" stroke-width="0.6"/>
<path d="M-100.04 -63.71A118.6 118.6 0 0 1 -99.98 -63.79C-34.99 -22.33 18.65 37.16 53.28 106.18A118.8 118.8 0 0 1 53.21 106.22C18.62 37.18 -35.01 -22.30 -100.04 -63.71Z" fill="#ba55d3" fill-opacity="1" stroke="#ba55d3" stroke-width="0.75"/>
<path d="M-118.15 -10.32A118.6 118.6 0 0 1 -118.14 -10.42C-41.35 -3.65 18.62 37.18 53.21 106.22A118.8 118.8 0 0 1 53.14 106.25C18.60 37.19 -41.35 -3.61 -118.15 -10.32Z" fill="#ba55d3" fill-opacity="1" stroke="#ba55d3" stroke-width="0.75"/>
<path d="M-106.96 51.24A118.6 118.6 0 0 1 -107.62 49.85C-37.67 17.45 19.42 36.76 55.50 105.04A118.8 118.8 0 0 1 54.34 105.64C19.02 36.98 -37.44 17.93 -106.96 51.24Z" fill="#ba55d3" fill-opacity="1" stroke="#ba55d3" stroke-width="0.75"/>
<path d="M-75.60 91.38A118.6 118.6 0 0 1 -75.93 91.11C-26.57 31.89 18.76 37.11 53.61 106.02A118.8 118.8 0 0 1 53.28 106.18C18.65 37.16 -26.46 31.98 -75.60 91.38Z" fill="#ba55d3" fill-opacity="1" stroke="#ba55d3" stroke-width="0.75"/>
<path d="M-9.01 -118.26A118.6 118.6 0 0 1 -7.72 -118.35C-2.70 -41.42 16.58 38.13 47.37 108.95A118.8 118.8 0 0 1 46.39 109.37C16.24 38.28 -3.15 -41.39 -9.01 -118.26Z" fill="#58c59a" fill-opacity="1" stroke="#58c59a" stroke-width="0.75"/>
<path d="M-59.27 -102.73A118.6 118.6 0 0 1 -59.23 -102.75C-20.73 -35.96 15.72 38.49 44.92 109.98A118.8 118.8 0 0 1 44.89 109.99C15.71 38.50 -20.75 -35.95 -59.27 -102.73Z" fill="#58c59a" fill-opacity="1" stroke="#58c59a" stroke-width="0.6"/>
<path d="M-99.98 -63.79A118.6 118.6 0 0 1 -99.93 -63.87C-34.98 -22.35 15.75 38.48 45.00 109.95A118.8 118.8 0 0 1 44.92 109.98C15.72 38.49 -34.99 -22.33 -99.98 -63.79Z" fill="#58c59a" fill-opacity="1" stroke="#58c59a" stroke-width="0.75"/>
<path d="M-118.21 -9.65A118.6 118.6 0 0 1 -118.17 -10.08C-41.36 -3.53 15.98 38.39 45.66 109.68A118.8 118.8 0 0 1 45.33 109.81C15.86 38.43 -41.37 -3.38 -118.21 -9.65Z" fill="#58c59a" fill-opacity="1" stroke="#58c59a" stroke-width="0.75"/>
<path d="M-108.49 47.92A118.6 118.6 0 0 1 -108.87 47.04C-38.11 16.46 16.24 38.28 46.39 109.37A118.8 118.8 0 0 1 45.66 109.68C15.98 38.39 -37.97 16.77 -108.49 47.92Z" fill="#58c59a" fill-opacity="1" stroke="#58c59a" stroke-width="0.75"/>
<path d="M-75.93 91.11A118.6 118.6 0 0 1 -76.26 90.83C-26.69 31.79 15.86 38.43 45.33 109.81A118.8 118.8 0 0 1 45.00 109.95C15.75 38.48 -26.57 31.89 -75.93 91.11Z" fill="#58c59a" fill-opacity="1" stroke="#58c59a" stroke-width="0.75"/>
<path d="M-5.19 -118.49A118.6 118.6 0 0 1 -5.09 -118.49C-1.78 -41.47 12.65 39.61 36.15 113.17A118.8 118.8 0 0 1 36.07 113.19C12.62 39.62 -1.82 -41.47 -5.19 -118.49Z" fill="#9f7be0" fill-opacity="1" stroke="#9f7be0" stroke-width="0.75"/>
<path d="M-59.85 -102.39A118.6 118.6 0 0 1 -59.65 -102.51C-20.88 -35.88 12.79 39.56 36.54 113.04A118.8 118.8 0 0 1 36.35 113.10C12.72 39.59 -20.95 -35.84 -59.85 -102.39Z" fill="#9f7be0" fill-opacity="1" stroke="#9f7be0" stroke-width="0.75"/>
<path d="M-101.20 -61.84A118.6 118.6 0 0 1 -100.86 -62.39C-35.30 -21.84 12.98 39.50 37.08 112.87A118.8 118.8 0 0 1 36.54 113.04C12.79 39.56 -35.42 -21.64 -101.20 -61.84Z" fill="#9f7be0" fill-opacity="1" stroke="#9f7be0" stroke-width="0.75"/>
<path d="M-118.17 -10.08A118.6 118.6 0 0 1 -118.15 -10.32C-41.35 -3.61 12.72 39.59 36.35 113.10A118.8 118.8 0 0 1 36.15 113.17C12.65 39.61 -41.36 -3.53 -118.17 -10.08Z" fill="#9f7be0" fill-opacity="1" stroke="#9f7be0" stroke-width="0.75"/>
<path d="M-108.87 47.04A118.6 118.6 0 0 1 -109.19 46.29C-38.22 16.20 13.21 39.43 37.74 112.64A118.8 118.8 0 0 1 37.08 112.87C12.98 39.50 -38.11 16.46 -108.87 47.04Z" fill="#9f7be0" fill-opacity="1" stroke="#9f7be0" stroke-width="0.75"/>
<path d="M-73.55 93.04A118.6 118.6 0 0 1 -74.30 92.44C-26.00 32.35 13.49 39.33 38.53 112.38A118.8 118.8 0 0 1 37.74 112.64C13.21 39.43 -25.74 32.56 -73.55 93.04Z" fill="#9f7be0" fill-opacity="1" stroke="#9f7be0" stroke-width="0.75"/>
<path d="M-6.29 -118.43A118.6 118.6 0 0 1 -5.91 -118.45C-2.07 -41.46 10.24 40.30 29.26 115.14A118.8 118.8 0 0 1 28.94 115.22C10.13 40.33 -2.20 -41.45 -6.29 -118.43Z" fill="#7fd9d3" fill-opacity="1" stroke="#7fd9d3" stroke-width="0.75"/>
<path d="M-59.23 -102.75A118.6 118.6 0 0 1 -59.19 -102.77C-20.72 -35.97 10.03 40.35 28.66 115.29A118.8 118.8 0 0 1 28.62 115.30C10.02 40.36 -20.73 -35.96 -59.23 -102.75Z" fill="#7fd9d3" fill-opacity="1" stroke="#7fd9d3" stroke-width="0.6"/>
<path d="M-99.93 -63.87A118.6 118.6 0 0 1 -99.91 -63.91C-34.97 -22.37 10.02 40.36 28.62 115.30A118.8 118.8 0 0 1 28.58 115.31C10.00 40.36 -34.98 -22.35 -99.93 -63.87Z" fill="#7fd9d3" fill-opacity="1" stroke="#7fd9d3" stroke-width="0.6"/>
<path d="M-118.42 -6.55A118.6 118.6 0 0 1 -118.36 -7.60C-41.42 -2.66 10.55 40.22 30.15 114.91A118.8 118.8 0 0 1 29.26 115.14C10.24 40.30 -41.45 -2.29 -118.42 -6.55Z" fill="#7fd9d3" fill-opacity="1" stroke="#7fd9d3" stroke-width="0.75"/>
<path d="M-109.47 45.63A118.6 118.6 0 0 1 -109.60 45.31C-38.36 15.86 10.13 40.33 28.94 115.22A118.8 118.8 0 0 1 28.66 115.29C10.03 40.35 -38.32 15.97 -109.47 45.63Z" fill="#7fd9d3" fill-opacity="1" stroke="#7fd9d3" stroke-width="0.75"/>
<path d="M-76.40 90.71A118.6 118.6 0 0 1 -76.44 90.68C-26.75 31.74 10.00 40.36 28.58 115.31A118.8 118.8 0 0 1 28.54 115.32C9.99 40.36 -26.74 31.75 -76.40 90.71Z" fill="#7fd9d3" fill-opacity="1" stroke="#7fd9d3" stroke-width="0.6"/>
<path d="M-5.09 -118.49A118.6 118.6 0 0 1 -5.05 -118.49C-1.77 -41.47 7.24 40.94 20.69 116.98A118.8 118.8 0 0 1 20.65 116.99C7.23 40.95 -1.78 -41.47 -5.09 -118.49Z" fill="#2aa9a0" fill-opacity="1" stroke="#2aa9a0" stroke-width="0.6"/>
<path d="M-59.19 -102.77A118.6 118.6 0 0 1 -59.15 -102.80C-20.70 -35.98 7.23 40.95 20.65 116.99A118.8 118.8 0 0 1 20.61 117.00C7.21 40.95 -20.72 -35.97 -59.19 -102.77Z" fill="#2aa9a0" fill-opacity="1" stroke="#2aa9a0" stroke-width="0.6"/>
<path d="M-99.91 -63.91A118.6 118.6 0 0 1 -99.88 -63.95C-34.96 -22.38 7.21 40.95 20.61 117.00A118.8 118.8 0 0 1 20.57 117.01C7.20 40.95 -34.97 -22.37 -99.91 -63.91Z" fill="#2aa9a0" fill-opacity="1" stroke="#2aa9a0" stroke-width="0.6"/>
<path d="M-118.14 -10.42A118.6 118.6 0 0 1 -118.13 -10.51C-41.35 -3.68 7.30 40.93 20.85 116.96A118.8 118.8 0 0 1 20.77 116.97C7.27 40.94 -41.35 -3.65 -118.14 -10.42Z" fill="#2aa9a0" fill-opacity="1" stroke="#2aa9a0" stroke-width="0.75"/>
<path d="M-109.60 45.31A118.6 118.6 0 0 1 -109.64 45.23C-38.37 15.83 7.27 40.94 20.77 116.97A118.8 118.8 0 0 1 20.69 116.98C7.24 40.94 -38.36 15.86 -109.60 45.31Z" fill="#2aa9a0" fill-opacity="1" stroke="#2aa9a0" stroke-width="0.75"/>
<path d="M-71.12 94.91A118.6 118.6 0 0 1 -72.50 93.86C-25.37 32.85 7.81 40.84 22.32 116.68A118.8 118.8 0 0 1 20.85 116.96C7.30 40.93 -24.89 33.22 -71.12 94.91Z" fill="#2aa9a0" fill-opacity="1" stroke="#2aa9a0" stroke-width="0.75"/>
<path d="M-5.05 -118.49A118.6 118.6 0 0 1 -5.00 -118.49C-1.75 -41.47 4.66 41.32 13.32 118.05A118.8 118.8 0 0 1 13.28 118.05C4.65 41.32 -1.77 -41.47 -5.05 -118.49Z" fill="#f0a060" fill-opacity="1" stroke="#f0a060" stroke-width="0.6"/>
<path d="M-59.65 -102.51A118.6 118.6 0 0 1 -59.48 -102.61C-20.82 -35.91 4.78 41.30 13.65 118.01A118.8 118.8 0 0 1 13.49 118.03C4.72 41.31 -20.88 -35.88 -59.65 -102.51Z" fill="#f0a060" fill-opacity="1" stroke="#f0a060" stroke-width="0.75"/>
<path d="M-100.34 -63.22A118.6 118.6 0 0 1 -100.19 -63.47C-35.07 -22.21 4.87 41.29 13.90 117.98A118.8 118.8 0 0 1 13.65 118.01C4.78 41.30 -35.12 -22.13 -100.34 -63.22Z" fill="#f0a060" fill-opacity="1" stroke="#f0a060" stroke-width="0.75"/>
<path d="M-118.13 -10.51A118.6 118.6 0 0 1 -118.12 -10.61C-41.34 -3.71 4.72 41.31 13.49 118.03A118.8 118.8 0 0 1 13.41 118.04C4.69 41.31 -41.35 -3.68 -118.13 -10.51Z" fill="#f0a060" fill-opacity="1" stroke="#f0a060" stroke-width="0.75"/>
<path d="M-107.62 49.85A118.6 118.6 0 0 1 -108.08 48.84C-37.83 17.09 5.20 41.25 14.85 117.87A118.8 118.8 0 0 1 13.90 117.98C4.87 41.29 -37.67 17.45 -107.62 49.85Z" fill="#f0a060" fill-opacity="1" stroke="#f0a060" stroke-width="0.75"/>
<path d="M-76.26 90.83A118.6 118.6 0 0 1 -76.33 90.77C-26.72 31.77 4.69 41.31 13.41 118.04A118.8 118.8 0 0 1 13.32 118.05C4.66 41.32 -26.69 31.79 -76.26 90.83Z" fill="#f0a060" fill-opacity="1" stroke="#f0a060" stroke-width="0.75"/>
<path d="M-5.00 -118.49A118.6 118.6 0 0 1 -4.95 -118.50C-1.73 -41.47 2.29 41.52 6.56 118.62A118.8 118.8 0 0 1 6.51 118.62C2.28 41.52 -1.75 -41.47 -5.00 -118.49Z" fill="#7a9a2e" fill-opacity="1" stroke="#7a9a2e" stroke-width="0.6"/>
<path d="M-59.15 -102.80A118.6 118.6 0 0 1 -59.11 -102.82C-20.69 -35.99 2.28 41.52 6.51 118.62A118.8 118.8 0 0 1 6.46 118.62C2.26 41.52 -20.70 -35.98 -59.15 -102.80Z" fill="#7a9a2e" fill-opacity="1" stroke="#7a9a2e" stroke-width="0.6"/>
<path d="M-99.88 -63.95A118.6 118.6 0 0 1 -99.85 -63.99C-34.95 -22.40 2.26 41.52 6.46 118.62A118.8 118.8 0 0 1 6.42 118.63C2.25 41.52 -34.96 -22.38 -99.88 -63.95Z" fill="#7a9a2e" fill-opacity="1" stroke="#7a9a2e" stroke-width="0.6"/>
<path d="M-118.36 -7.60A118.6 118.6 0 0 1 -118.30 -8.41C-41.41 -2.95 2.57 41.50 7.36 118.57A118.8 118.8 0 0 1 6.56 118.62C2.29 41.52 -41.42 -2.66 -118.36 -7.60Z" fill="#7a9a2e" fill-opacity="1" stroke="#7a9a2e" stroke-width="0.75"/>
<path d="M-109.64 45.23A118.6 118.6 0 0 1 -109.66 45.18C-38.38 15.81 2.25 41.52 6.42 118.63A118.8 118.8 0 0 1 6.37 118.63C2.23 41.52 -38.37 15.83 -109.64 45.23Z" fill="#7a9a2e" fill-opacity="1" stroke="#7a9a2e" stroke-width="0.6"/>
<path d="M-76.44 90.68A118.6 118.6 0 0 1 -76.48 90.65C-26.77 31.73 2.23 41.52 6.37 118.63A118.8 118.8 0 0 1 6.32 118.63C2.21 41.52 -26.75 31.74 -76.44 90.68Z" fill="#7a9a2e" fill-opacity="1" stroke="#7a9a2e" stroke-width="0.6"/>
<path d="M-4.95 -118.50A118.6 118.6 0 0 1 -4.90 -118.50C-1.72 -41.47 -0.32 41.58 -0.90 118.80A118.8 118.8 0 0 1 -0.95 118.80C-0.33 41.58 -1.73 -41.47 -4.95 -118.50Z" fill="#b0c4de" fill-opacity="1" stroke="#b0c4de" stroke-width="0.6"/>
<path d="M-59.11 -102.82A118.6 118.6 0 0 1 -59.07 -102.85C-20.67 -36.00 -0.33 41.58 -0.95 118.80A118.8 118.8 0 0 1 -1.00 118.80C-0.35 41.58 -20.69 -35.99 -59.11 -102.82Z" fill="#b0c4de" fill-opacity="1" stroke="#b0c4de" stroke-width="0.6"/>
<path d="M-99.85 -63.99A118.6 118.6 0 0 1 -99.83 -64.03C-34.94 -22.41 -0.35 41.58 -1.00 118.80A118.8 118.8 0 0 1 -1.05 118.80C-0.37 41.58 -34.95 -22.40 -99.85 -63.99Z" fill="#b0c4de" fill-opacity="1" stroke="#b0c4de" stroke-width="0.6"/>
<path d="M-118.12 -10.61A118.6 118.6 0 0 1 -118.12 -10.65C-41.34 -3.73 -0.37 41.58 -1.05 118.80A118.8 118.8 0 0 1 -1.09 118.79C-0.38 41.58 -41.34 -3.71 -118.12 -10.61Z" fill="#b0c4de" fill-opacity="1" stroke="#b0c4de" stroke-width="0.6"/>
<path d="M-109.66 45.18A118.6 118.6 0 0 1 -109.68 45.14C-38.39 15.80 -0.38 41.58 -1.09 118.79A118.8 118.8 0 0 1 -1.14 118.79C-0.40 41.58 -38.38 15.81 -109.66 45.18Z" fill="#b0c4de" fill-opacity="1" stroke="#b0c4de" stroke-width="0.6"/>
<path d="M-74.97 91.90A118.6 118.6 0 0 1 -75.60 91.38C-26.46 31.98 -0.04 41.58 -0.10 118.80A118.8 118.8 0 0 1 -0.90 118.80C-0.32 41.58 -26.24 32.17 -74.97 91.90Z" fill="#b0c4de" fill-opacity="1" stroke="#b0c4de" stroke-width="0.75"/>
<path d="M-4.90 -118.50A118.6 118.6 0 0 1 -4.86 -118.50C-1.70 -41.48 -2.83 41.48 -8.08 118.52A118.8 118.8 0 0 1 -8.12 118.52C-2.84 41.48 -1.72 -41.47 -4.90 -118.50Z" fill="#f7e3cf" fill-opacity="1" stroke="#f7e3cf" stroke-width="0.6"/>
<path d="M-59.07 -102.85A118.6 118.6 0 0 1 -59.02 -102.87C-20.66 -36.00 -2.84 41.48 -8.12 118.52A118.8 118.8 0 0 1 -8.16 118.52C-2.86 41.48 -20.67 -36.00 -59.07 -102.85Z" fill="#f7e3cf" fill-opacity="1" stroke="#f7e3cf" stroke-width="0.6"/>
<path d="M-100.19 -63.47A118.6 118.6 0 0 1 -100.04 -63.71C-35.01 -22.30 -2.74 41.49 -7.83 118.54A118.8 118.8 0 0 1 -8.08 118.52C-2.83 41.48 -35.07 -22.21 -100.19 -63.47Z" fill="#f7e3cf" fill-opacity="1" stroke="#f7e3cf" stroke-width="0.75"/>
<path d="M-118.12 -10.65A118.6 118.6 0 0 1 -118.12 -10.70C-41.34 -3.75 -2.86 41.48 -8.16 118.52A118.8 118.8 0 0 1 -8.20 118.52C-2.87 41.48 -41.34 -3.73 -118.12 -10.65Z" fill="#f7e3cf" fill-opacity="1" stroke="#f7e3cf" stroke-width="0.6"/>
<path d="M-109.68 45.14A118.6 118.6 0 0 1 -109.69 45.09C-38.39 15.78 -2.87 41.48 -8.20 118.52A118.8 118.8 0 0 1 -8.25 118.51C-2.89 41.48 -38.39 15.80 -109.68 45.14Z" fill="#f7e3cf" fill-opacity="1" stroke="#f7e3cf" stroke-width="0.6"/>
<path d="M-74.30 92.44A118.6 118.6 0 0 1 -74.97 91.90C-26.24 32.17 -2.48 41.51 -7.09 118.59A118.8 118.8 0 0 1 -7.83 118.54C-2.74 41.49 -26.00 32.35 -74.30 92.44Z" fill="#f7e3cf" fill-opacity="1" stroke="#f7e3cf" stroke-width="0.75"/>
<path d="M-5.91 -118.45A118.6 118.6 0 0 1 -5.52 -118.47C-1.93 -41.46 -5.32 41.24 -15.20 117.82A118.8 118.8 0 0 1 -15.53 117.78C-5.43 41.22 -2.07 -41.46 -5.91 -118.45Z" fill="#6495ed" fill-opacity="1" stroke="#6495ed" stroke-width="0.75"/>
<path d="M-60.27 -102.15A118.6 118.6 0 0 1 -59.85 -102.39C-20.95 -35.84 -5.18 41.26 -14.79 117.88A118.8 118.8 0 0 1 -15.20 117.82C-5.32 41.24 -21.09 -35.75 -60.27 -102.15Z" fill="#6495ed" fill-opacity="1" stroke="#6495ed" stroke-width="0.75"/>
<path d="M-100.52 -62.94A118.6 118.6 0 0 1 -100.34 -63.22C-35.12 -22.13 -5.43 41.22 -15.53 117.78A118.8 118.8 0 0 1 -15.81 117.74C-5.54 41.21 -35.18 -22.03 -100.52 -62.94Z" fill="#6495ed" fill-opacity="1" stroke="#6495ed" stroke-width="0.75"/>
<path d="M-118.25 -9.13A118.6 118.6 0 0 1 -118.21 -9.65C-41.37 -3.38 -5.02 41.28 -14.33 117.93A118.8 118.8 0 0 1 -14.79 117.88C-5.18 41.26 -41.39 -3.20 -118.25 -9.13Z" fill="#6495ed" fill-opacity="1" stroke="#6495ed" stroke-width="0.75"/>
<path d="M-108.08 48.84A118.6 118.6 0 0 1 -108.49 47.92C-37.97 16.77 -4.71 41.31 -13.47 118.03A118.8 118.8 0 0 1 -14.33 117.93C-5.02 41.28 -37.83 17.09 -108.08 48.84Z" fill="#6495ed" fill-opacity="1" stroke="#6495ed" stroke-width="0.75"/>
<path d="M-76.33 90.77A118.6 118.6 0 0 1 -76.40 90.71C-26.74 31.75 -5.54 41.21 -15.81 117.74A118.8 118.8 0 0 1 -15.90 117.73C-5.56 41.21 -26.72 31.77 -76.33 90.77Z" fill="#6495ed" fill-opacity="1" stroke="#6495ed" stroke-width="0.75"/>
<path d="M-4.86 -118.50A118.6 118.6 0 0 1 -4.81 -118.50C-1.68 -41.48 -7.52 40.89 -21.48 116.84A118.8 118.8 0 0 1 -21.53 116.83C-7.54 40.89 -1.70 -41.48 -4.86 -118.50Z" fill="#cd5c5c" fill-opacity="1" stroke="#cd5c5c" stroke-width="0.6"/>
<path d="M-59.02 -102.87A118.6 118.6 0 0 1 -58.98 -102.89C-20.64 -36.01 -7.54 40.89 -21.53 116.83A118.8 118.8 0 0 1 -21.59 116.82C-7.56 40.89 -20.66 -36.00 -59.02 -102.87Z" fill="#cd5c5c" fill-opacity="1" stroke="#cd5c5c" stroke-width="0.6"/>
<path d="M-100.86 -62.39A118.6 118.6 0 0 1 -100.52 -62.94C-35.18 -22.03 -7.26 40.94 -20.73 116.98A118.8 118.8 0 0 1 -21.48 116.84C-7.52 40.89 -35.30 -21.84 -100.86 -62.39Z" fill="#cd5c5c" fill-opacity="1" stroke="#cd5c5c" stroke-width="0.75"/>
<path d="M-118.12 -10.70A118.6 118.6 0 0 1 -118.11 -10.75C-41.34 -3.76 -7.56 40.89 -21.59 116.82A118.8 118.8 0 0 1 -21.64 116.81C-7.57 40.88 -41.34 -3.75 -118.12 -10.70Z" fill="#cd5c5c" fill-opacity="1" stroke="#cd5c5c" stroke-width="0.6"/>
<path d="M-109.69 45.09A118.6 118.6 0 0 1 -109.71 45.05C-38.40 15.77 -7.57 40.88 -21.64 116.81A118.8 118.8 0 0 1 -21.70 116.80C-7.59 40.88 -38.39 15.78 -109.69 45.09Z" fill="#cd5c5c" fill-opacity="1" stroke="#cd5c5c" stroke-width="0.6"/>
<path d="M-76.48 90.65A118.6 118.6 0 0 1 -76.51 90.62C-26.78 31.72 -7.59 40.88 -21.70 116.80A118.8 118.8 0 0 1 -21.75 116.79C-7.61 40.88 -26.77 31.73 -76.48 90.65Z" fill="#cd5c5c" fill-opacity="1" stroke="#cd5c5c" stroke-width="0.6"/>
<path d="M-4.81 -118.50A118.6 118.6 0 0 1 -4.76 -118.50C-1.67 -41.48 -9.72 40.43 -27.78 115.51A118.8 118.8 0 0 1 -27.83 115.49C-9.74 40.42 -1.68 -41.48 -4.81 -118.50Z" fill="#ba55d3" fill-opacity="1" stroke="#ba55d3" stroke-width="0.6"/>
<path d="M-58.98 -102.89A118.6 118.6 0 0 1 -58.94 -102.92C-20.63 -36.02 -9.74 40.42 -27.83 115.49A118.8 118.8 0 0 1 -27.88 115.48C-9.76 40.42 -20.64 -36.01 -58.98 -102.89Z" fill="#ba55d3" fill-opacity="1" stroke="#ba55d3" stroke-width="0.6"/>
<path d="M-99.83 -64.03A118.6 118.6 0 0 1 -99.80 -64.07C-34.93 -22.43 -9.76 40.42 -27.88 115.48A118.8 118.8 0 0 1 -27.93 115.47C-9.78 40.41 -34.94 -22.41 -99.83 -64.03Z" fill="#ba55d3" fill-opacity="1" stroke="#ba55d3" stroke-width="0.6"/>
<path d="M-118.30 -8.41A118.6 118.6 0 0 1 -118.25 -9.13C-41.39 -3.20 -9.46 40.49 -27.03 115.68A118.8 118.8 0 0 1 -27.78 115.51C-9.72 40.43 -41.41 -2.95 -118.30 -8.41Z" fill="#ba55d3" fill-opacity="1" stroke="#ba55d3" stroke-width="0.75"/>
<path d="M-109.71 45.05A118.6 118.6 0 0 1 -109.73 45.00C-38.41 15.75 -9.78 40.41 -27.93 115.47A118.8 118.8 0 0 1 -27.99 115.46C-9.79 40.41 -38.40 15.77 -109.71 45.05Z" fill="#ba55d3" fill-opacity="1" stroke="#ba55d3" stroke-width="0.6"/>
<path d="M-76.51 90.62A118.6 118.6 0 0 1 -76.55 90.59C-26.79 31.71 -9.79 40.41 -27.99 115.46A118.8 118.8 0 0 1 -28.04 115.44C-9.81 40.41 -26.78 31.72 -76.51 90.62Z" fill="#ba55d3" fill-opacity="1" stroke="#ba55d3" stroke-width="0.6"/>
<path d="M-78.60 -164.04A181.9 181.9 0 0 1 -7.30 -181.75L-7.09 -176.46A176.6 176.6 0 0 0 -76.31 -159.26Z" fill="#ff5a1f" />
<path d="M-53.92 -112.55A124.8 124.8 0 0 1 -5.01 -124.70L-4.75 -118.20A118.3 118.3 0 0 0 -51.12 -106.69Z" fill="#ff5a1f" />
<path d="M-73.58 -153.58A170.3 170.3 0 0 1 -32.31 -167.21L-31.74 -164.26A167.3 167.3 0 0 0 -72.29 -150.88Z" fill="#b0c4de" />
<path d="M-32.31 -167.21A170.3 170.3 0 0 1 -12.93 -169.81L-12.70 -166.82A167.3 167.3 0 0 0 -31.74 -164.26Z" fill="#f9ece0" />
<path d="M-9.71 -170.02A170.3 170.3 0 0 1 -9.03 -170.06L-8.87 -167.06A167.3 167.3 0 0 0 -9.54 -167.03Z" fill="#6495ed" />
<path d="M-7.93 -170.12A170.3 170.3 0 0 1 -7.45 -170.14L-7.32 -167.14A167.3 167.3 0 0 0 -7.79 -167.12Z" fill="#cd5c5c" />
<path d="M-11.08 -169.94A170.3 170.3 0 0 1 -9.71 -170.02L-9.54 -167.03A167.3 167.3 0 0 0 -10.89 -166.95Z" fill="#ba55d3" />
<path d="M-12.93 -169.81A170.3 170.3 0 0 1 -11.08 -169.94L-10.89 -166.95A167.3 167.3 0 0 0 -12.70 -166.82Z" fill="#58c59a" />
<path d="M-9.03 -170.06A170.3 170.3 0 0 1 -8.48 -170.09L-8.33 -167.09A167.3 167.3 0 0 0 -8.87 -167.06Z" fill="#7fd9d3" />
<path d="M-8.48 -170.09A170.3 170.3 0 0 1 -7.93 -170.12L-7.79 -167.12A167.3 167.3 0 0 0 -8.33 -167.09Z" fill="#6495ed" />
<line x1="-72.42" y1="-151.15" x2="-70.99" y2="-148.17" stroke="#6d7b90" stroke-width="0.8"/>
<line x1="-66.21" y1="-153.97" x2="-64.91" y2="-150.93" stroke="#6d7b90" stroke-width="0.8"/>
<line x1="-59.90" y1="-156.53" x2="-58.72" y2="-153.45" stroke="#6d7b90" stroke-width="0.8"/>
<line x1="-53.49" y1="-158.84" x2="-52.43" y2="-155.71" stroke="#6d7b90" stroke-width="0.8"/>
<line x1="-46.98" y1="-160.88" x2="-46.06" y2="-157.71" stroke="#6d7b90" stroke-width="0.8"/>
<line x1="-40.40" y1="-162.66" x2="-39.61" y2="-159.45" stroke="#6d7b90" stroke-width="0.8"/>
<line x1="-33.76" y1="-164.17" x2="-33.09" y2="-160.93" stroke="#6d7b90" stroke-width="0.8"/>
<line x1="-27.06" y1="-165.40" x2="-26.52" y2="-162.15" stroke="#6d7b90" stroke-width="0.8"/>
<line x1="-20.31" y1="-166.36" x2="-19.91" y2="-163.09" stroke="#6d7b90" stroke-width="0.8"/>
<line x1="-13.53" y1="-167.05" x2="-13.26" y2="-163.76" stroke="#6d7b90" stroke-width="0.8"/>
<line x1="-6.73" y1="-167.46" x2="-6.59" y2="-164.17" stroke="#6d7b90" stroke-width="0.8"/>
<text transform="rotate(424.40)" x="-141.6" y="0" dy="-0.08em" font-size="6.7" text-anchor="end" fill="#2e2e2e" stroke="#2e2e2e" stroke-width="0.25">0%</text>
<text transform="rotate(426.73)" x="-141.6" y="0" dy="-0.08em" font-size="6.7" text-anchor="end" fill="#2e2e2e" stroke="#2e2e2e" stroke-width="0.25">10%</text>
<text transform="rotate(429.06)" x="-141.6" y="0" dy="-0.08em" font-size="6.7" text-anchor="end" fill="#2e2e2e" stroke="#2e2e2e" stroke-width="0.25">20%</text>
<text transform="rotate(431.39)" x="-141.6" y="0" dy="-0.08em" font-size="6.7" text-anchor="end" fill="#2e2e2e" stroke="#2e2e2e" stroke-width="0.25">30%</text>
<text transform="rotate(433.72)" x="-141.6" y="0" dy="-0.08em" font-size="6.7" text-anchor="end" fill="#2e2e2e" stroke="#2e2e2e" stroke-width="0.25">40%</text>
<text transform="rotate(436.05)" x="-141.6" y="0" dy="-0.08em" font-size="6.7" text-anchor="end" fill="#2e2e2e" stroke="#2e2e2e" stroke-width="0.25">50%</text>
<text transform="rotate(438.38)" x="-141.6" y="0" dy="-0.08em" font-size="6.7" text-anchor="end" fill="#2e2e2e" stroke="#2e2e2e" stroke-width="0.25">60%</text>
<text transform="rotate(440.71)" x="-141.6" y="0" dy="-0.08em" font-size="6.7" text-anchor="end" fill="#2e2e2e" stroke="#2e2e2e" stroke-width="0.25">70%</text>
<text transform="rotate(443.04)" x="-141.6" y="0" dy="-0.08em" font-size="6.7" text-anchor="end" fill="#2e2e2e" stroke="#2e2e2e" stroke-width="0.25">80%</text>
<text transform="rotate(445.37)" x="-141.6" y="0" dy="-0.08em" font-size="6.7" text-anchor="end" fill="#2e2e2e" stroke="#2e2e2e" stroke-width="0.25">90%</text>
<line x1="-55.04" y1="-113.34" x2="-56.13" y2="-115.59" stroke="#555" stroke-width="0.8"/>
<text transform="rotate(424.20)" x="-130.8" y="0" dy="0.25em" font-size="6.7" text-anchor="end" fill="#2e2e2e" stroke="#2e2e2e" stroke-width="0.25">0%</text>
<text transform="rotate(434.95)" x="-188.5" y="0" dy="0.25em" font-size="20.3" text-anchor="end" fill="#222" class="lab">SH</text>
<path d="M-145.46 -109.22A181.9 181.9 0 0 1 -90.40 -157.85L-87.77 -153.25A176.6 176.6 0 0 0 -141.22 -106.03Z" fill="#8b1a96" />
<path d="M-99.80 -74.93A124.8 124.8 0 0 1 -62.02 -108.30L-58.79 -102.66A118.3 118.3 0 0 0 -94.60 -71.03Z" fill="#8b1a96" />
<path d="M-136.19 -102.25A170.3 170.3 0 0 1 -88.01 -145.79L-86.46 -143.23A167.3 167.3 0 0 0 -133.79 -100.45Z" fill="#b0c4de" />
<path d="M-88.01 -145.79A170.3 170.3 0 0 1 -86.54 -146.67L-85.01 -144.09A167.3 167.3 0 0 0 -86.46 -143.23Z" fill="#f9ece0" />
<path d="M-85.41 -147.33A170.3 170.3 0 0 1 -85.23 -147.44L-83.73 -144.84A167.3 167.3 0 0 0 -83.90 -144.74Z" fill="#cd5c5c" />
<path d="M-85.94 -147.02A170.3 170.3 0 0 1 -85.65 -147.20L-84.14 -144.60A167.3 167.3 0 0 0 -84.43 -144.43Z" fill="#9f7be0" />
<path d="M-85.65 -147.20A170.3 170.3 0 0 1 -85.41 -147.33L-83.90 -144.74A167.3 167.3 0 0 0 -84.14 -144.60Z" fill="#f0a060" />
<path d="M-86.54 -146.67A170.3 170.3 0 0 1 -85.94 -147.02L-84.43 -144.43A167.3 167.3 0 0 0 -85.01 -144.09Z" fill="#6495ed" />
<line x1="-134.03" y1="-100.63" x2="-131.39" y2="-98.65" stroke="#6d7b90" stroke-width="0.8"/>
<line x1="-129.83" y1="-106.00" x2="-127.27" y2="-103.91" stroke="#6d7b90" stroke-width="0.8"/>
<line x1="-125.41" y1="-111.19" x2="-122.94" y2="-109.00" stroke="#6d7b90" stroke-width="0.8"/>
<line x1="-120.78" y1="-116.19" x2="-118.41" y2="-113.91" stroke="#6d7b90" stroke-width="0.8"/>
<line x1="-115.96" y1="-121.01" x2="-113.68" y2="-118.62" stroke="#6d7b90" stroke-width="0.8"/>
<line x1="-110.95" y1="-125.62" x2="-108.76" y2="-123.15" stroke="#6d7b90" stroke-width="0.8"/>
<line x1="-105.75" y1="-130.03" x2="-103.66" y2="-127.47" stroke="#6d7b90" stroke-width="0.8"/>
<line x1="-100.37" y1="-134.22" x2="-98.40" y2="-131.58" stroke="#6d7b90" stroke-width="0.8"/>
<line x1="-94.83" y1="-138.19" x2="-92.97" y2="-135.47" stroke="#6d7b90" stroke-width="0.8"/>
<line x1="-89.14" y1="-141.93" x2="-87.38" y2="-139.14" stroke="#6d7b90" stroke-width="0.8"/>
<line x1="-83.29" y1="-145.44" x2="-81.65" y2="-142.57" stroke="#6d7b90" stroke-width="0.8"/>
<text transform="rotate(396.90)" x="-141.6" y="0" dy="-0.08em" font-size="6.7" text-anchor="end" fill="#2e2e2e" stroke="#2e2e2e" stroke-width="0.25">0%</text>
<text transform="rotate(399.23)" x="-141.6" y="0" dy="-0.08em" font-size="6.7" text-anchor="end" fill="#2e2e2e" stroke="#2e2e2e" stroke-width="0.25">10%</text>
<text transform="rotate(401.56)" x="-141.6" y="0" dy="-0.08em" font-size="6.7" text-anchor="end" fill="#2e2e2e" stroke="#2e2e2e" stroke-width="0.25">20%</text>
<text transform="rotate(403.89)" x="-141.6" y="0" dy="-0.08em" font-size="6.7" text-anchor="end" fill="#2e2e2e" stroke="#2e2e2e" stroke-width="0.25">30%</text>
<text transform="rotate(406.22)" x="-141.6" y="0" dy="-0.08em" font-size="6.7" text-anchor="end" fill="#2e2e2e" stroke="#2e2e2e" stroke-width="0.25">40%</text>
<text transform="rotate(408.55)" x="-141.6" y="0" dy="-0.08em" font-size="6.7" text-anchor="end" fill="#2e2e2e" stroke="#2e2e2e" stroke-width="0.25">50%</text>
<text transform="rotate(410.88)" x="-141.6" y="0" dy="-0.08em" font-size="6.7" text-anchor="end" fill="#2e2e2e" stroke="#2e2e2e" stroke-width="0.25">60%</text>
<text transform="rotate(413.21)" x="-141.6" y="0" dy="-0.08em" font-size="6.7" text-anchor="end" fill="#2e2e2e" stroke="#2e2e2e" stroke-width="0.25">70%</text>
<text transform="rotate(415.54)" x="-141.6" y="0" dy="-0.08em" font-size="6.7" text-anchor="end" fill="#2e2e2e" stroke="#2e2e2e" stroke-width="0.25">80%</text>
<text transform="rotate(417.87)" x="-141.6" y="0" dy="-0.08em" font-size="6.7" text-anchor="end" fill="#2e2e2e" stroke="#2e2e2e" stroke-width="0.25">90%</text>
<line x1="-101.16" y1="-75.12" x2="-103.16" y2="-76.61" stroke="#555" stroke-width="0.8"/>
<text transform="rotate(396.70)" x="-130.8" y="0" dy="0.25em" font-size="6.7" text-anchor="end" fill="#2e2e2e" stroke="#2e2e2e" stroke-width="0.25">0%</text>
<text transform="rotate(407.65)" x="-190.5" y="0" dy="0.25em" font-size="20.3" text-anchor="end" fill="#222" class="lab">SD</text>
<path d="M-179.46 -29.71A181.9 181.9 0 0 1 -153.07 -98.27L-148.61 -95.41A176.6 176.6 0 0 0 -174.23 -28.84Z" fill="#f8f428" />
<path d="M-123.12 -20.38A124.8 124.8 0 0 1 -105.02 -67.42L-99.55 -63.91A118.3 118.3 0 0 0 -116.71 -19.32Z" fill="#f8f428" />
<path d="M-168.01 -27.81A170.3 170.3 0 0 1 -154.20 -72.29L-151.48 -71.02A167.3 167.3 0 0 0 -165.05 -27.32Z" fill="#b0c4de" />
<path d="M-154.20 -72.29A170.3 170.3 0 0 1 -150.52 -79.67L-147.86 -78.26A167.3 167.3 0 0 0 -151.48 -71.02Z" fill="#f9ece0" />
<path d="M-150.52 -79.67A170.3 170.3 0 0 1 -146.62 -86.62L-144.04 -85.10A167.3 167.3 0 0 0 -147.86 -78.26Z" fill="#6495ed" />
<path d="M-146.62 -86.62A170.3 170.3 0 0 1 -145.32 -88.80L-142.76 -87.24A167.3 167.3 0 0 0 -144.04 -85.10Z" fill="#cd5c5c" />
<path d="M-145.32 -88.80A170.3 170.3 0 0 1 -144.83 -89.59L-142.28 -88.01A167.3 167.3 0 0 0 -142.76 -87.24Z" fill="#9f7be0" />
<path d="M-144.08 -90.79A170.3 170.3 0 0 1 -143.86 -91.13L-141.33 -89.53A167.3 167.3 0 0 0 -141.55 -89.19Z" fill="#f0a060" />
<path d="M-143.86 -91.13A170.3 170.3 0 0 1 -143.64 -91.48L-141.11 -89.87A167.3 167.3 0 0 0 -141.33 -89.53Z" fill="#f7e3cf" />
<path d="M-144.34 -90.38A170.3 170.3 0 0 1 -144.08 -90.79L-141.55 -89.19A167.3 167.3 0 0 0 -141.80 -88.79Z" fill="#6495ed" />
<path d="M-144.83 -89.59A170.3 170.3 0 0 1 -144.34 -90.38L-141.80 -88.79A167.3 167.3 0 0 0 -142.28 -88.01Z" fill="#cd5c5c" />
<line x1="-165.35" y1="-27.37" x2="-162.09" y2="-26.83" stroke="#6d7b90" stroke-width="0.8"/>
<line x1="-164.10" y1="-34.07" x2="-160.87" y2="-33.40" stroke="#6d7b90" stroke-width="0.8"/>
<line x1="-162.58" y1="-40.72" x2="-159.38" y2="-39.91" stroke="#6d7b90" stroke-width="0.8"/>
<line x1="-160.79" y1="-47.29" x2="-157.62" y2="-46.36" stroke="#6d7b90" stroke-width="0.8"/>
<line x1="-158.73" y1="-53.79" x2="-155.61" y2="-52.73" stroke="#6d7b90" stroke-width="0.8"/>
<line x1="-156.42" y1="-60.20" x2="-153.34" y2="-59.01" stroke="#6d7b90" stroke-width="0.8"/>
<line x1="-153.84" y1="-66.51" x2="-150.81" y2="-65.20" stroke="#6d7b90" stroke-width="0.8"/>
<line x1="-151.01" y1="-72.71" x2="-148.03" y2="-71.28" stroke="#6d7b90" stroke-width="0.8"/>
<line x1="-147.93" y1="-78.79" x2="-145.01" y2="-77.24" stroke="#6d7b90" stroke-width="0.8"/>
<line x1="-144.60" y1="-84.74" x2="-141.75" y2="-83.07" stroke="#6d7b90" stroke-width="0.8"/>
<line x1="-141.04" y1="-90.54" x2="-138.26" y2="-88.76" stroke="#6d7b90" stroke-width="0.8"/>
<text transform="rotate(369.40)" x="-141.6" y="0" dy="-0.08em" font-size="6.7" text-anchor="end" fill="#2e2e2e" stroke="#2e2e2e" stroke-width="0.25">0%</text>
<text transform="rotate(371.73)" x="-141.6" y="0" dy="-0.08em" font-size="6.7" text-anchor="end" fill="#2e2e2e" stroke="#2e2e2e" stroke-width="0.25">10%</text>
<text transform="rotate(374.06)" x="-141.6" y="0" dy="-0.08em" font-size="6.7" text-anchor="end" fill="#2e2e2e" stroke="#2e2e2e" stroke-width="0.25">20%</text>
<text transform="rotate(376.39)" x="-141.6" y="0" dy="-0.08em" font-size="6.7" text-anchor="end" fill="#2e2e2e" stroke="#2e2e2e" stroke-width="0.25">30%</text>
<text transform="rotate(378.72)" x="-141.6" y="0" dy="-0.08em" font-size="6.7" text-anchor="end" fill="#2e2e2e" stroke="#2e2e2e" stroke-width="0.25">40%</text>
<text transform="rotate(381.05)" x="-141.6" y="0" dy="-0.08em" font-size="6.7" text-anchor="end" fill="#2e2e2e" stroke="#2e2e2e" stroke-width="0.25">50%</text>
<text transform="rotate(383.38)" x="-141.6" y="0" dy="-0.08em" font-size="6.7" text-anchor="end" fill="#2e2e2e" stroke="#2e2e2e" stroke-width="0.25">60%</text>
<text transform="rotate(385.71)" x="-141.6" y="0" dy="-0.08em" font-size="6.7" text-anchor="end" fill="#2e2e2e" stroke="#2e2e2e" stroke-width="0.25">70%</text>
<text transform="rotate(388.04)" x="-141.6" y="0" dy="-0.08em" font-size="6.7" text-anchor="end" fill="#2e2e2e" stroke="#2e2e2e" stroke-width="0.25">80%</text>
<text transform="rotate(390.37)" x="-141.6" y="0" dy="-0.08em" font-size="6.7" text-anchor="end" fill="#2e2e2e" stroke="#2e2e2e" stroke-width="0.25">90%</text>
<line x1="-124.41" y1="-19.93" x2="-126.88" y2="-20.32" stroke="#555" stroke-width="0.8"/>
<text transform="rotate(369.20)" x="-130.8" y="0" dy="0.25em" font-size="6.7" text-anchor="end" fill="#2e2e2e" stroke="#2e2e2e" stroke-width="0.25">0%</text>
<text transform="rotate(380.45)" x="-190.5" y="0" dy="0.25em" font-size="20.3" text-anchor="end" fill="#222" class="lab">RH</text>
<path d="M-172.90 56.51A181.9 181.9 0 0 1 -181.15 -16.49L-175.87 -16.01A176.6 176.6 0 0 0 -167.86 54.87Z" fill="#1f8c1f" />
<path d="M-118.62 38.77A124.8 124.8 0 0 1 -124.29 -11.31L-117.81 -10.72A118.3 118.3 0 0 0 -112.45 36.75Z" fill="#1f8c1f" />
<path d="M-161.87 52.91A170.3 170.3 0 0 1 -170.09 8.49L-167.09 8.35A167.3 167.3 0 0 0 -159.02 51.98Z" fill="#b0c4de" />
<path d="M-170.09 8.49A170.3 170.3 0 0 1 -170.20 -5.91L-167.20 -5.81A167.3 167.3 0 0 0 -167.09 8.35Z" fill="#f9ece0" />
<path d="M-170.20 -5.91A170.3 170.3 0 0 1 -170.13 -7.70L-167.13 -7.56A167.3 167.3 0 0 0 -167.20 -5.81Z" fill="#6495ed" />
<path d="M-170.13 -7.70A170.3 170.3 0 0 1 -170.04 -9.41L-167.04 -9.25A167.3 167.3 0 0 0 -167.13 -7.56Z" fill="#cd5c5c" />
<path d="M-169.73 -13.86A170.3 170.3 0 0 1 -169.68 -14.48L-166.69 -14.22A167.3 167.3 0 0 0 -166.74 -13.62Z" fill="#58c59a" />
<path d="M-169.68 -14.48A170.3 170.3 0 0 1 -169.65 -14.82L-166.67 -14.56A167.3 167.3 0 0 0 -166.69 -14.22Z" fill="#9f7be0" />
<path d="M-170.04 -9.41A170.3 170.3 0 0 1 -169.95 -10.92L-166.96 -10.73A167.3 167.3 0 0 0 -167.04 -9.25Z" fill="#7fd9d3" />
<path d="M-169.95 -10.92A170.3 170.3 0 0 1 -169.87 -12.08L-166.88 -11.87A167.3 167.3 0 0 0 -166.96 -10.73Z" fill="#7a9a2e" />
<path d="M-169.79 -13.11A170.3 170.3 0 0 1 -169.73 -13.86L-166.74 -13.62A167.3 167.3 0 0 0 -166.80 -12.88Z" fill="#6495ed" />
<path d="M-169.87 -12.08A170.3 170.3 0 0 1 -169.79 -13.11L-166.80 -12.88A167.3 167.3 0 0 0 -166.88 -11.87Z" fill="#ba55d3" />
<line x1="-159.31" y1="52.07" x2="-156.17" y2="51.04" stroke="#6d7b90" stroke-width="0.8"/>
<line x1="-161.29" y1="45.55" x2="-158.12" y2="44.65" stroke="#6d7b90" stroke-width="0.8"/>
<line x1="-163.01" y1="38.95" x2="-159.80" y2="38.19" stroke="#6d7b90" stroke-width="0.8"/>
<line x1="-164.46" y1="32.30" x2="-161.22" y2="31.66" stroke="#6d7b90" stroke-width="0.8"/>
<line x1="-165.64" y1="25.58" x2="-162.37" y2="25.08" stroke="#6d7b90" stroke-width="0.8"/>
<line x1="-166.54" y1="18.83" x2="-163.26" y2="18.46" stroke="#6d7b90" stroke-width="0.8"/>
<line x1="-167.17" y1="12.04" x2="-163.88" y2="11.80" stroke="#6d7b90" stroke-width="0.8"/>
<line x1="-167.52" y1="5.24" x2="-164.22" y2="5.13" stroke="#6d7b90" stroke-width="0.8"/>
<line x1="-167.59" y1="-1.58" x2="-164.29" y2="-1.55" stroke="#6d7b90" stroke-width="0.8"/>
<line x1="-167.39" y1="-8.39" x2="-164.09" y2="-8.23" stroke="#6d7b90" stroke-width="0.8"/>
<line x1="-166.91" y1="-15.19" x2="-163.62" y2="-14.89" stroke="#6d7b90" stroke-width="0.8"/>
<text transform="rotate(341.90)" x="-141.6" y="0" dy="-0.08em" font-size="6.7" text-anchor="end" fill="#2e2e2e" stroke="#2e2e2e" stroke-width="0.25">0%</text>
<text transform="rotate(344.23)" x="-141.6" y="0" dy="-0.08em" font-size="6.7" text-anchor="end" fill="#2e2e2e" stroke="#2e2e2e" stroke-width="0.25">10%</text>
<text transform="rotate(346.56)" x="-141.6" y="0" dy="-0.08em" font-size="6.7" text-anchor="end" fill="#2e2e2e" stroke="#2e2e2e" stroke-width="0.25">20%</text>
<text transform="rotate(348.89)" x="-141.6" y="0" dy="-0.08em" font-size="6.7" text-anchor="end" fill="#2e2e2e" stroke="#2e2e2e" stroke-width="0.25">30%</text>
<text transform="rotate(351.22)" x="-141.6" y="0" dy="-0.08em" font-size="6.7" text-anchor="end" fill="#2e2e2e" stroke="#2e2e2e" stroke-width="0.25">40%</text>
<text transform="rotate(353.55)" x="-141.6" y="0" dy="-0.08em" font-size="6.7" text-anchor="end" fill="#2e2e2e" stroke="#2e2e2e" stroke-width="0.25">50%</text>
<text transform="rotate(355.88)" x="-141.6" y="0" dy="-0.08em" font-size="6.7" text-anchor="end" fill="#2e2e2e" stroke="#2e2e2e" stroke-width="0.25">60%</text>
<text transform="rotate(358.21)" x="-141.6" y="0" dy="-0.08em" font-size="6.7" text-anchor="end" fill="#2e2e2e" stroke="#2e2e2e" stroke-width="0.25">70%</text>
<text transform="rotate(360.54)" x="-141.6" y="0" dy="-0.08em" font-size="6.7" text-anchor="end" fill="#2e2e2e" stroke="#2e2e2e" stroke-width="0.25">80%</text>
<text transform="rotate(362.87)" x="-141.6" y="0" dy="-0.08em" font-size="6.7" text-anchor="end" fill="#2e2e2e" stroke="#2e2e2e" stroke-width="0.25">90%</text>
<line x1="-119.56" y1="39.77" x2="-121.93" y2="40.56" stroke="#555" stroke-width="0.8"/>
<text transform="rotate(341.70)" x="-130.8" y="0" dy="0.25em" font-size="6.7" text-anchor="end" fill="#2e2e2e" stroke="#2e2e2e" stroke-width="0.25">0%</text>
<text transform="rotate(352.95)" x="-190.0" y="0" dy="0.25em" font-size="20.3" text-anchor="end" fill="#222" class="lab">RD</text>
<path d="M-127.27 129.96A181.9 181.9 0 0 1 -168.30 69.02L-163.39 67.01A176.6 176.6 0 0 0 -123.56 126.18Z" fill="#2a2aff" />
<path d="M-87.32 89.17A124.8 124.8 0 0 1 -115.47 47.36L-109.45 44.89A118.3 118.3 0 0 0 -82.77 84.52Z" fill="#2a2aff" />
<path d="M-119.15 121.67A170.3 170.3 0 0 1 -143.46 91.76L-140.94 90.15A167.3 167.3 0 0 0 -117.05 119.53Z" fill="#b0c4de" />
<path d="M-143.46 91.76A170.3 170.3 0 0 1 -152.00 76.79L-149.33 75.44A167.3 167.3 0 0 0 -140.94 90.15Z" fill="#f9ece0" />
<path d="M-156.79 66.47A170.3 170.3 0 0 1 -157.19 65.51L-154.43 64.36A167.3 167.3 0 0 0 -154.03 65.30Z" fill="#6495ed" />
<path d="M-152.00 76.79A170.3 170.3 0 0 1 -153.59 73.57L-150.88 72.28A167.3 167.3 0 0 0 -149.33 75.44Z" fill="#cd5c5c" />
<path d="M-153.59 73.57A170.3 170.3 0 0 1 -154.53 71.58L-151.81 70.31A167.3 167.3 0 0 0 -150.88 72.28Z" fill="#ba55d3" />
<path d="M-155.78 68.81A170.3 170.3 0 0 1 -156.33 67.55L-153.58 66.36A167.3 167.3 0 0 0 -153.04 67.60Z" fill="#58c59a" />
<path d="M-156.33 67.55A170.3 170.3 0 0 1 -156.79 66.47L-154.03 65.30A167.3 167.3 0 0 0 -153.58 66.36Z" fill="#9f7be0" />
<path d="M-157.19 65.51A170.3 170.3 0 0 1 -157.38 65.07L-154.61 63.92A167.3 167.3 0 0 0 -154.43 64.36Z" fill="#7fd9d3" />
<path d="M-154.53 71.58A170.3 170.3 0 0 1 -155.19 70.13L-152.45 68.90A167.3 167.3 0 0 0 -151.81 70.31Z" fill="#f0a060" />
<path d="M-155.19 70.13A170.3 170.3 0 0 1 -155.78 68.81L-153.04 67.60A167.3 167.3 0 0 0 -152.45 68.90Z" fill="#6495ed" />
<line x1="-117.26" y1="119.75" x2="-114.95" y2="117.39" stroke="#6d7b90" stroke-width="0.8"/>
<line x1="-122.03" y1="114.88" x2="-119.63" y2="112.62" stroke="#6d7b90" stroke-width="0.8"/>
<line x1="-126.60" y1="109.82" x2="-124.11" y2="107.66" stroke="#6d7b90" stroke-width="0.8"/>
<line x1="-130.96" y1="104.59" x2="-128.39" y2="102.53" stroke="#6d7b90" stroke-width="0.8"/>
<line x1="-135.11" y1="99.17" x2="-132.45" y2="97.22" stroke="#6d7b90" stroke-width="0.8"/>
<line x1="-139.03" y1="93.60" x2="-136.29" y2="91.76" stroke="#6d7b90" stroke-width="0.8"/>
<line x1="-142.72" y1="87.87" x2="-139.91" y2="86.14" stroke="#6d7b90" stroke-width="0.8"/>
<line x1="-146.17" y1="81.99" x2="-143.30" y2="80.38" stroke="#6d7b90" stroke-width="0.8"/>
<line x1="-149.39" y1="75.98" x2="-146.44" y2="74.49" stroke="#6d7b90" stroke-width="0.8"/>
<line x1="-152.35" y1="69.85" x2="-149.35" y2="68.47" stroke="#6d7b90" stroke-width="0.8"/>
<line x1="-155.07" y1="63.60" x2="-152.01" y2="62.34" stroke="#6d7b90" stroke-width="0.8"/>
<text transform="rotate(314.40)" x="-141.6" y="0" dy="-0.08em" font-size="6.7" text-anchor="end" fill="#2e2e2e" stroke="#2e2e2e" stroke-width="0.25">0%</text>
<text transform="rotate(316.73)" x="-141.6" y="0" dy="-0.08em" font-size="6.7" text-anchor="end" fill="#2e2e2e" stroke="#2e2e2e" stroke-width="0.25">10%</text>
<text transform="rotate(319.06)" x="-141.6" y="0" dy="-0.08em" font-size="6.7" text-anchor="end" fill="#2e2e2e" stroke="#2e2e2e" stroke-width="0.25">20%</text>
<text transform="rotate(321.39)" x="-141.6" y="0" dy="-0.08em" font-size="6.7" text-anchor="end" fill="#2e2e2e" stroke="#2e2e2e" stroke-width="0.25">30%</text>
<text transform="rotate(323.72)" x="-141.6" y="0" dy="-0.08em" font-size="6.7" text-anchor="end" fill="#2e2e2e" stroke="#2e2e2e" stroke-width="0.25">40%</text>
<text transform="rotate(326.05)" x="-141.6" y="0" dy="-0.08em" font-size="6.7" text-anchor="end" fill="#2e2e2e" stroke="#2e2e2e" stroke-width="0.25">50%</text>
<text transform="rotate(328.38)" x="-141.6" y="0" dy="-0.08em" font-size="6.7" text-anchor="end" fill="#2e2e2e" stroke="#2e2e2e" stroke-width="0.25">60%</text>
<text transform="rotate(330.71)" x="-141.6" y="0" dy="-0.08em" font-size="6.7" text-anchor="end" fill="#2e2e2e" stroke="#2e2e2e" stroke-width="0.25">70%</text>
<text transform="rotate(333.04)" x="-141.6" y="0" dy="-0.08em" font-size="6.7" text-anchor="end" fill="#2e2e2e" stroke="#2e2e2e" stroke-width="0.25">80%</text>
<text transform="rotate(335.37)" x="-141.6" y="0" dy="-0.08em" font-size="6.7" text-anchor="end" fill="#2e2e2e" stroke="#2e2e2e" stroke-width="0.25">90%</text>
<line x1="-87.69" y1="90.48" x2="-89.42" y2="92.28" stroke="#555" stroke-width="0.8"/>
<text transform="rotate(314.20)" x="-130.8" y="0" dy="0.25em" font-size="6.7" text-anchor="end" fill="#2e2e2e" stroke="#2e2e2e" stroke-width="0.25">0%</text>
<text transform="rotate(325.45)" x="-192.7" y="0" dy="0.25em" font-size="20.3" text-anchor="end" fill="#222" class="lab">LH</text>
<path d="M-52.88 174.04A181.9 181.9 0 0 1 -117.41 138.93L-113.99 134.89A176.6 176.6 0 0 0 -51.34 168.97Z" fill="#fb1e26" />
<path d="M-36.28 119.41A124.8 124.8 0 0 1 -80.55 95.32L-76.36 90.36A118.3 118.3 0 0 0 -34.39 113.19Z" fill="#fb1e26" />
<path d="M-49.51 162.95A170.3 170.3 0 0 1 -93.87 142.09L-92.22 139.59A167.3 167.3 0 0 0 -48.63 160.07Z" fill="#b0c4de" />
<path d="M-98.07 139.23A170.3 170.3 0 0 1 -102.13 136.28L-100.33 133.88A167.3 167.3 0 0 0 -96.34 136.77Z" fill="#f9ece0" />
<path d="M-93.87 142.09A170.3 170.3 0 0 1 -98.07 139.23L-96.34 136.77A167.3 167.3 0 0 0 -92.22 139.59Z" fill="#6495ed" />
<path d="M-104.10 134.78A170.3 170.3 0 0 1 -105.61 133.60L-103.75 131.24A167.3 167.3 0 0 0 -102.26 132.41Z" fill="#cd5c5c" />
<path d="M-108.55 131.22A170.3 170.3 0 0 1 -109.03 130.83L-107.11 128.52A167.3 167.3 0 0 0 -106.64 128.91Z" fill="#ba55d3" />
<path d="M-109.03 130.83A170.3 170.3 0 0 1 -109.50 130.43L-107.57 128.13A167.3 167.3 0 0 0 -107.11 128.52Z" fill="#58c59a" />
<path d="M-105.61 133.60A170.3 170.3 0 0 1 -106.69 132.74L-104.81 130.40A167.3 167.3 0 0 0 -103.75 131.24Z" fill="#9f7be0" />
<path d="M-102.13 136.28A170.3 170.3 0 0 1 -104.10 134.78L-102.26 132.41A167.3 167.3 0 0 0 -100.33 133.88Z" fill="#2aa9a0" />
<path d="M-107.65 131.96A170.3 170.3 0 0 1 -108.55 131.22L-106.64 128.91A167.3 167.3 0 0 0 -105.75 129.64Z" fill="#b0c4de" />
<path d="M-106.69 132.74A170.3 170.3 0 0 1 -107.65 131.96L-105.75 129.64A167.3 167.3 0 0 0 -104.81 130.40Z" fill="#f7e3cf" />
<line x1="-48.72" y1="160.36" x2="-47.76" y2="157.20" stroke="#6d7b90" stroke-width="0.8"/>
<line x1="-55.20" y1="158.25" x2="-54.11" y2="155.13" stroke="#6d7b90" stroke-width="0.8"/>
<line x1="-61.59" y1="155.87" x2="-60.38" y2="152.80" stroke="#6d7b90" stroke-width="0.8"/>
<line x1="-67.87" y1="153.24" x2="-66.54" y2="150.22" stroke="#6d7b90" stroke-width="0.8"/>
<line x1="-74.05" y1="150.35" x2="-72.59" y2="147.39" stroke="#6d7b90" stroke-width="0.8"/>
<line x1="-80.10" y1="147.22" x2="-78.52" y2="144.32" stroke="#6d7b90" stroke-width="0.8"/>
<line x1="-86.02" y1="143.84" x2="-84.33" y2="141.01" stroke="#6d7b90" stroke-width="0.8"/>
<line x1="-91.80" y1="140.23" x2="-89.99" y2="137.46" stroke="#6d7b90" stroke-width="0.8"/>
<line x1="-97.42" y1="136.38" x2="-95.50" y2="133.69" stroke="#6d7b90" stroke-width="0.8"/>
<line x1="-102.88" y1="132.30" x2="-100.86" y2="129.70" stroke="#6d7b90" stroke-width="0.8"/>
<line x1="-108.18" y1="128.01" x2="-106.05" y2="125.49" stroke="#6d7b90" stroke-width="0.8"/>
<text transform="rotate(286.90)" x="-141.6" y="0" dy="-0.08em" font-size="6.7" text-anchor="end" fill="#2e2e2e" stroke="#2e2e2e" stroke-width="0.25">0%</text>
<text transform="rotate(289.23)" x="-141.6" y="0" dy="-0.08em" font-size="6.7" text-anchor="end" fill="#2e2e2e" stroke="#2e2e2e" stroke-width="0.25">10%</text>
<text transform="rotate(291.56)" x="-141.6" y="0" dy="-0.08em" font-size="6.7" text-anchor="end" fill="#2e2e2e" stroke="#2e2e2e" stroke-width="0.25">20%</text>
<text transform="rotate(293.89)" x="-141.6" y="0" dy="-0.08em" font-size="6.7" text-anchor="end" fill="#2e2e2e" stroke="#2e2e2e" stroke-width="0.25">30%</text>
<text transform="rotate(296.22)" x="-141.6" y="0" dy="-0.08em" font-size="6.7" text-anchor="end" fill="#2e2e2e" stroke="#2e2e2e" stroke-width="0.25">40%</text>
<text transform="rotate(298.55)" x="-141.6" y="0" dy="-0.08em" font-size="6.7" text-anchor="end" fill="#2e2e2e" stroke="#2e2e2e" stroke-width="0.25">50%</text>
<text transform="rotate(300.88)" x="-141.6" y="0" dy="-0.08em" font-size="6.7" text-anchor="end" fill="#2e2e2e" stroke="#2e2e2e" stroke-width="0.25">60%</text>
<text transform="rotate(303.21)" x="-141.6" y="0" dy="-0.08em" font-size="6.7" text-anchor="end" fill="#2e2e2e" stroke="#2e2e2e" stroke-width="0.25">70%</text>
<text transform="rotate(305.54)" x="-141.6" y="0" dy="-0.08em" font-size="6.7" text-anchor="end" fill="#2e2e2e" stroke="#2e2e2e" stroke-width="0.25">80%</text>
<text transform="rotate(307.87)" x="-141.6" y="0" dy="-0.08em" font-size="6.7" text-anchor="end" fill="#2e2e2e" stroke="#2e2e2e" stroke-width="0.25">90%</text>
<line x1="-36.00" y1="120.75" x2="-36.71" y2="123.14" stroke="#555" stroke-width="0.8"/>
<text transform="rotate(286.70)" x="-130.8" y="0" dy="0.25em" font-size="6.7" text-anchor="end" fill="#2e2e2e" stroke="#2e2e2e" stroke-width="0.25">0%</text>
<text transform="rotate(299.75)" x="-193.3" y="0" dy="0.25em" font-size="20.3" text-anchor="end" fill="#222" class="lab">LD</text>
<path d="M6.49 -185.89A186.0 186.0 0 0 1 179.91 47.20L174.11 45.68A180.0 180.0 0 0 0 6.28 -179.89Z" fill="#b0c4de" />
<path d="M172.03 -44.53A177.7 177.7 0 0 1 177.67 3.13L170.97 3.01A171.0 171.0 0 0 0 165.54 -42.85Z" fill="#ff5a1f" />
<path d="M6.20 -177.59A177.7 177.7 0 0 1 75.73 -160.76L72.87 -154.69A171.0 171.0 0 0 0 5.97 -170.90Z" fill="#8b1a96" />
<path d="M120.57 -130.54A177.7 177.7 0 0 1 152.88 -90.59L147.11 -87.17A171.0 171.0 0 0 0 116.03 -125.61Z" fill="#f8f428" />
<path d="M152.88 -90.59A177.7 177.7 0 0 1 172.03 -44.53L165.54 -42.85A171.0 171.0 0 0 0 147.11 -87.17Z" fill="#1f8c1f" />
<path d="M177.67 3.13A177.7 177.7 0 0 1 171.88 45.09L165.40 43.39A171.0 171.0 0 0 0 170.97 3.01Z" fill="#2a2aff" />
<path d="M75.73 -160.76A177.7 177.7 0 0 1 120.57 -130.54L116.03 -125.61A171.0 171.0 0 0 0 72.87 -154.69Z" fill="#fb1e26" />
<path d="M4.34 -124.42A124.5 124.5 0 0 1 120.42 31.59L114.43 30.02A118.3 118.3 0 0 0 4.13 -118.23Z" fill="#b0c4de" />
<line x1="5.96" y1="-170.70" x2="5.87" y2="-168.10" stroke="#777" stroke-width="0.7"/>
<text transform="rotate(-87.70)" x="151.5" y="0" dy="0.3em" font-size="6.3" text-anchor="start" fill="#444" >0%</text>
<line x1="36.74" y1="-166.80" x2="36.18" y2="-164.26" stroke="#777" stroke-width="0.7"/>
<text transform="rotate(-77.28)" x="151.5" y="0" dy="0.3em" font-size="6.3" text-anchor="start" fill="#444" >10%</text>
<line x1="66.30" y1="-157.41" x2="65.29" y2="-155.01" stroke="#777" stroke-width="0.7"/>
<text transform="rotate(-66.86)" x="151.5" y="0" dy="0.3em" font-size="6.3" text-anchor="start" fill="#444" >20%</text>
<line x1="93.67" y1="-142.82" x2="92.25" y2="-140.65" stroke="#777" stroke-width="0.7"/>
<text transform="rotate(-56.44)" x="151.5" y="0" dy="0.3em" font-size="6.3" text-anchor="start" fill="#444" >30%</text>
<line x1="117.96" y1="-123.52" x2="116.16" y2="-121.64" stroke="#777" stroke-width="0.7"/>
<text transform="rotate(-46.02)" x="151.5" y="0" dy="0.3em" font-size="6.3" text-anchor="start" fill="#444" >40%</text>
<line x1="138.36" y1="-100.15" x2="136.25" y2="-98.63" stroke="#777" stroke-width="0.7"/>
<text transform="rotate(-35.60)" x="151.5" y="0" dy="0.3em" font-size="6.3" text-anchor="start" fill="#444" >50%</text>
<line x1="154.19" y1="-73.48" x2="151.84" y2="-72.36" stroke="#777" stroke-width="0.7"/>
<text transform="rotate(-25.18)" x="151.5" y="0" dy="0.3em" font-size="6.3" text-anchor="start" fill="#444" >60%</text>
<line x1="164.93" y1="-44.38" x2="162.42" y2="-43.70" stroke="#777" stroke-width="0.7"/>
<text transform="rotate(-14.76)" x="151.5" y="0" dy="0.3em" font-size="6.3" text-anchor="start" fill="#444" >70%</text>
<line x1="170.24" y1="-13.82" x2="167.65" y2="-13.61" stroke="#777" stroke-width="0.7"/>
<text transform="rotate(-4.34)" x="151.5" y="0" dy="0.3em" font-size="6.3" text-anchor="start" fill="#444" >80%</text>
<line x1="169.93" y1="17.20" x2="167.34" y2="16.94" stroke="#777" stroke-width="0.7"/>
<text transform="rotate(6.08)" x="151.5" y="0" dy="0.3em" font-size="6.3" text-anchor="start" fill="#444" >90%</text>
<line x1="3.96" y1="-125.94" x2="4.04" y2="-128.44" stroke="#555" stroke-width="0.8"/>
<text transform="rotate(-88.00)" x="130.0" y="0" dy="0.25em" font-size="7" text-anchor="start" fill="#2e2e2e" >0%</text>
<text class="lab" transform="translate(150.28 -123.00) rotate(-36.65)" dy="0.25em" font-size="19.7" text-anchor="start" fill="#262626">Fusarium</text>
<path d="M175.33 62.09A186.0 186.0 0 0 1 137.79 124.94L133.34 120.91A180.0 180.0 0 0 0 169.68 60.09Z" fill="#f9ece0" />
<path d="M167.51 59.32A177.7 177.7 0 0 1 159.42 78.51L153.41 75.55A171.0 171.0 0 0 0 161.19 57.08Z" fill="#ff5a1f" />
<path d="M132.86 118.00A177.7 177.7 0 0 1 131.64 119.36L126.68 114.86A171.0 171.0 0 0 0 127.85 113.56Z" fill="#8b1a96" />
<path d="M141.80 107.09A177.7 177.7 0 0 1 136.35 113.96L131.20 109.66A171.0 171.0 0 0 0 136.46 103.06Z" fill="#f8f428" />
<path d="M150.52 94.46A177.7 177.7 0 0 1 141.80 107.09L136.46 103.06A171.0 171.0 0 0 0 144.84 90.90Z" fill="#1f8c1f" />
<path d="M159.42 78.51A177.7 177.7 0 0 1 150.52 94.46L144.84 90.90A171.0 171.0 0 0 0 153.41 75.55Z" fill="#2a2aff" />
<path d="M136.35 113.96A177.7 177.7 0 0 1 132.86 118.00L127.85 113.56A171.0 171.0 0 0 0 131.20 109.66Z" fill="#fb1e26" />
<path d="M117.36 41.56A124.5 124.5 0 0 1 92.23 83.63L87.64 79.46A118.3 118.3 0 0 0 111.51 39.49Z" fill="#f9ece0" />
<line x1="161.00" y1="57.01" x2="158.36" y2="56.08" stroke="#777" stroke-width="0.7"/>
<text transform="rotate(19.50)" x="150.5" y="0" dy="0.25em" font-size="7" text-anchor="start" fill="#2e2e2e" >0%</text>
<line x1="158.62" y1="63.35" x2="156.02" y2="62.31" stroke="#777" stroke-width="0.7"/>
<text transform="rotate(21.77)" x="150.5" y="0" dy="0.25em" font-size="7" text-anchor="start" fill="#2e2e2e" >10%</text>
<line x1="155.99" y1="69.58" x2="153.43" y2="68.44" stroke="#777" stroke-width="0.7"/>
<text transform="rotate(24.04)" x="150.5" y="0" dy="0.25em" font-size="7" text-anchor="start" fill="#2e2e2e" >20%</text>
<line x1="153.11" y1="75.70" x2="150.60" y2="74.46" stroke="#777" stroke-width="0.7"/>
<text transform="rotate(26.31)" x="150.5" y="0" dy="0.25em" font-size="7" text-anchor="start" fill="#2e2e2e" >30%</text>
<line x1="149.99" y1="81.71" x2="147.53" y2="80.37" stroke="#777" stroke-width="0.7"/>
<text transform="rotate(28.58)" x="150.5" y="0" dy="0.25em" font-size="7" text-anchor="start" fill="#2e2e2e" >40%</text>
<line x1="146.63" y1="87.58" x2="144.23" y2="86.15" stroke="#777" stroke-width="0.7"/>
<text transform="rotate(30.85)" x="150.5" y="0" dy="0.25em" font-size="7" text-anchor="start" fill="#2e2e2e" >50%</text>
<line x1="143.05" y1="93.32" x2="140.70" y2="91.79" stroke="#777" stroke-width="0.7"/>
<text transform="rotate(33.12)" x="150.5" y="0" dy="0.25em" font-size="7" text-anchor="start" fill="#2e2e2e" >60%</text>
<line x1="139.24" y1="98.92" x2="136.96" y2="97.30" stroke="#777" stroke-width="0.7"/>
<text transform="rotate(35.39)" x="150.5" y="0" dy="0.25em" font-size="7" text-anchor="start" fill="#2e2e2e" >70%</text>
<line x1="135.21" y1="104.35" x2="133.00" y2="102.64" stroke="#777" stroke-width="0.7"/>
<text transform="rotate(37.66)" x="150.5" y="0" dy="0.25em" font-size="7" text-anchor="start" fill="#2e2e2e" >80%</text>
<line x1="130.97" y1="109.63" x2="128.83" y2="107.83" stroke="#777" stroke-width="0.7"/>
<text transform="rotate(39.93)" x="150.5" y="0" dy="0.25em" font-size="7" text-anchor="start" fill="#2e2e2e" >90%</text>
<line x1="126.53" y1="114.73" x2="124.46" y2="112.85" stroke="#777" stroke-width="0.7"/>
<text transform="rotate(42.20)" x="150.5" y="0" dy="0.25em" font-size="7" text-anchor="start" fill="#2e2e2e" >100%</text>
<line x1="119.21" y1="40.81" x2="121.57" y2="41.62" stroke="#555" stroke-width="0.8"/>
<text transform="rotate(18.70)" x="130.0" y="0" dy="0.25em" font-size="7" text-anchor="start" fill="#2e2e2e" >0%</text>
<text class="lab" transform="translate(163.12 97.43) rotate(30.85)" dy="0.25em" font-size="20.2" text-anchor="start" fill="#262626">Cutaneotrichosporon</text>
<path d="M128.27 134.70A186.0 186.0 0 0 1 116.30 145.16L112.54 140.48A180.0 180.0 0 0 0 124.13 130.35Z" fill="#6495ed" />
<path d="M111.64 138.25A177.7 177.7 0 0 1 111.15 138.64L106.96 133.42A171.0 171.0 0 0 0 107.43 133.04Z" fill="#ff5a1f" />
<path d="M111.15 138.64A177.7 177.7 0 0 1 111.11 138.68L106.92 133.45A171.0 171.0 0 0 0 106.96 133.42Z" fill="#8b1a96" />
<path d="M122.55 128.69A177.7 177.7 0 0 1 117.17 133.60L112.75 128.56A171.0 171.0 0 0 0 117.92 123.83Z" fill="#f8f428" />
<path d="M113.64 136.62A177.7 177.7 0 0 1 112.38 137.66L108.14 132.47A171.0 171.0 0 0 0 109.35 131.47Z" fill="#1f8c1f" />
<path d="M112.38 137.66A177.7 177.7 0 0 1 111.64 138.25L107.43 133.04A171.0 171.0 0 0 0 108.14 132.47Z" fill="#2a2aff" />
<path d="M117.17 133.60A177.7 177.7 0 0 1 113.64 136.62L109.35 131.47A171.0 171.0 0 0 0 112.75 128.56Z" fill="#fb1e26" />
<path d="M116.97 121.98A169.0 169.0 0 0 1 105.20 132.26L103.71 130.38A166.6 166.6 0 0 0 115.31 120.25Z" fill="#444" opacity="0.6"/>
<path d="M115.31 120.25A166.6 166.6 0 0 1 103.71 130.38L102.71 129.13A165.0 165.0 0 0 0 114.20 119.09Z" fill="#888" opacity="0.25"/>
<line x1="79.72" y1="96.54" x2="81.12" y2="98.23" stroke="#444" stroke-width="1.1"/>
<text class="lab" transform="translate(125.68 143.82) rotate(48.85)" dy="0.25em" font-size="20.2" text-anchor="start" fill="#262626">Sporobolomyces</text>
<path d="M106.95 152.18A186.0 186.0 0 0 1 98.84 157.56L95.65 152.48A180.0 180.0 0 0 0 103.50 147.27Z" fill="#cd5c5c" />
<path d="M94.95 150.21A177.7 177.7 0 0 1 94.59 150.44L91.02 144.76A171.0 171.0 0 0 0 91.37 144.54Z" fill="#ff5a1f" />
<path d="M94.59 150.44A177.7 177.7 0 0 1 94.43 150.53L90.87 144.86A171.0 171.0 0 0 0 91.02 144.76Z" fill="#8b1a96" />
<path d="M99.56 147.19A177.7 177.7 0 0 1 97.67 148.45L93.99 142.85A171.0 171.0 0 0 0 95.80 141.64Z" fill="#f8f428" />
<path d="M96.24 149.38A177.7 177.7 0 0 1 94.95 150.21L91.37 144.54A171.0 171.0 0 0 0 92.61 143.75Z" fill="#1f8c1f" />
<path d="M102.18 145.39A177.7 177.7 0 0 1 99.56 147.19L95.80 141.64A171.0 171.0 0 0 0 98.33 139.90Z" fill="#2a2aff" />
<path d="M97.67 148.45A177.7 177.7 0 0 1 96.24 149.38L92.61 143.75A171.0 171.0 0 0 0 93.99 142.85Z" fill="#fb1e26" />
<path d="M97.66 137.93A169.0 169.0 0 0 1 89.31 143.48L88.04 141.44A166.6 166.6 0 0 0 96.27 135.97Z" fill="#444" opacity="0.6"/>
<path d="M96.27 135.97A166.6 166.6 0 0 1 88.04 141.44L87.19 140.08A165.0 165.0 0 0 0 95.35 134.66Z" fill="#888" opacity="0.25"/>
<line x1="66.35" y1="106.18" x2="67.51" y2="108.04" stroke="#444" stroke-width="1.1"/>
<text class="lab" transform="translate(108.19 162.84) rotate(56.40)" dy="0.25em" font-size="20.2" text-anchor="start" fill="#262626">Cladosporium</text>
<line x1="78.30" y1="152.36" x2="80.95" y2="157.52" stroke="#a64ad0" stroke-width="2.2" opacity="0.85"/>
<line x1="81.94" y1="161.17" x2="84.75" y2="166.69" stroke="#ba55d3" stroke-width="2.2" opacity="0.9"/>
<circle cx="77.07" cy="149.96" r="1.9" fill="#111"/>
<line x1="54.63" y1="109.09" x2="55.61" y2="111.05" stroke="#444" stroke-width="1.1"/>
<text class="lab" transform="translate(86.68 167.95) rotate(62.80)" dy="0.25em" font-size="14.1" text-anchor="start" fill="#262626">Alternaria</text>
<line x1="66.52" y1="157.86" x2="68.77" y2="163.20" stroke="#c07080" stroke-width="2.2" opacity="0.7"/>
<line x1="69.48" y1="166.92" x2="71.86" y2="172.64" stroke="#58c59a" stroke-width="2.2" opacity="0.9"/>
<circle cx="65.47" cy="155.37" r="1.9" fill="#111"/>
<line x1="46.20" y1="112.92" x2="47.03" y2="114.95" stroke="#444" stroke-width="1.1"/>
<text class="lab" transform="translate(76.17 173.52) rotate(67.15)" dy="0.25em" font-size="14.1" text-anchor="start" fill="#262626">Candida</text>
<line x1="53.79" y1="162.64" x2="55.61" y2="168.14" stroke="#b060b0" stroke-width="2.2" opacity="0.7"/>
<line x1="56.02" y1="171.90" x2="57.94" y2="177.80" stroke="#9f7be0" stroke-width="2.2" opacity="0.8"/>
<circle cx="52.94" cy="160.07" r="1.9" fill="#111"/>
<line x1="37.09" y1="116.22" x2="37.76" y2="118.32" stroke="#444" stroke-width="1.1"/>
<text class="lab" transform="translate(63.28 179.68) rotate(71.70)" dy="0.25em" font-size="14.1" text-anchor="start" fill="#262626">Penicillium</text>
<line x1="42.31" y1="165.99" x2="43.74" y2="171.61" stroke="#f0a0a0" stroke-width="2.2" opacity="0.4"/>
<line x1="43.89" y1="175.39" x2="45.40" y2="181.41" stroke="#7fd9d3" stroke-width="1.5" opacity="0.25"/>
<circle cx="41.64" cy="163.38" r="1.9" fill="#111"/>
<line x1="28.89" y1="118.53" x2="29.42" y2="120.67" stroke="#444" stroke-width="1.1"/>
<text class="lab" transform="translate(51.54 179.76) rotate(75.70)" dy="0.25em" font-size="14.1" text-anchor="start" fill="#262626">Apiotrichum</text>
<line x1="30.92" y1="168.49" x2="31.97" y2="174.19" stroke="#f08080" stroke-width="2.7" opacity="0.9"/>
<line x1="31.86" y1="177.97" x2="32.95" y2="184.07" stroke="#2aa9a0" stroke-width="1.6" opacity="0.22"/>
<circle cx="30.44" cy="165.83" r="1.9" fill="#111"/>
<line x1="20.77" y1="120.22" x2="21.14" y2="122.39" stroke="#444" stroke-width="1.1"/>
<text class="lab" transform="translate(38.82 182.62) rotate(80.00)" dy="0.25em" font-size="14.1" text-anchor="start" fill="#262626">Gibberella</text>
<line x1="20.28" y1="170.09" x2="20.97" y2="175.85" stroke="#6a50d8" stroke-width="2.7" opacity="0.9"/>
<line x1="20.62" y1="179.62" x2="21.33" y2="185.78" stroke="#f0a060" stroke-width="1.6" opacity="0.22"/>
<circle cx="19.96" cy="167.41" r="1.9" fill="#111"/>
<line x1="13.18" y1="121.29" x2="13.41" y2="123.47" stroke="#444" stroke-width="1.1"/>
<text class="lab" transform="translate(29.10 183.71) rotate(83.50)" dy="0.25em" font-size="14.1" text-anchor="start" fill="#262626">Epicoccum</text>
<line x1="9.86" y1="171.02" x2="10.19" y2="176.81" stroke="#1f8c1f" stroke-width="2.7" opacity="0.9"/>
<line x1="9.62" y1="180.54" x2="9.95" y2="186.74" stroke="#7a9a2e" stroke-width="1.6" opacity="0.22"/>
<circle cx="9.71" cy="168.32" r="1.9" fill="#111"/>
<line x1="5.75" y1="121.86" x2="5.85" y2="124.06" stroke="#444" stroke-width="1.1"/>
<text class="lab" transform="translate(17.00 186.83) rotate(86.70)" dy="0.25em" font-size="14.1" text-anchor="start" fill="#262626">Plectosphaerella</text>
<line x1="-0.90" y1="171.30" x2="-0.93" y2="177.10" stroke="#f86060" stroke-width="2.7" opacity="0.9"/>
<line x1="-1.74" y1="180.79" x2="-1.80" y2="186.99" stroke="#b0c4de" stroke-width="1.6" opacity="0.22"/>
<circle cx="-0.86" cy="165.00" r="1.9" fill="#111"/>
<line x1="-1.92" y1="121.98" x2="-1.95" y2="124.18" stroke="#444" stroke-width="1.1"/>
<text class="lab" transform="translate(1.97 188.19) rotate(90.30)" dy="0.25em" font-size="14.1" text-anchor="start" fill="#262626">Trichoderma</text>
<line x1="-11.05" y1="170.94" x2="-11.43" y2="176.73" stroke="#fb1e26" stroke-width="2.7" opacity="0.9"/>
<line x1="-12.45" y1="180.37" x2="-12.88" y2="186.56" stroke="#f7e3cf" stroke-width="1.6" opacity="0.22"/>
<circle cx="-10.65" cy="164.66" r="1.9" fill="#111"/>
<line x1="-9.15" y1="121.66" x2="-9.31" y2="123.85" stroke="#444" stroke-width="1.1"/>
<text class="lab" transform="translate(-11.72 186.33) rotate(92.50)" dy="0.25em" font-size="14.1" text-anchor="start" fill="#262626">Rhodotorula</text>
<line x1="-21.17" y1="169.99" x2="-21.89" y2="175.74" stroke="#2a2aff" stroke-width="2.7" opacity="0.9"/>
<line x1="-23.13" y1="179.31" x2="-23.92" y2="185.46" stroke="#6495ed" stroke-width="1.6" opacity="0.22"/>
<circle cx="-20.39" cy="163.73" r="1.9" fill="#111"/>
<line x1="-16.35" y1="120.90" x2="-16.64" y2="123.08" stroke="#444" stroke-width="1.1"/>
<text class="lab" transform="translate(-24.06 185.24) rotate(97.10)" dy="0.25em" font-size="14.1" text-anchor="start" fill="#262626">Aspergillus</text>
<line x1="-30.63" y1="168.54" x2="-31.67" y2="174.25" stroke="#f8f428" stroke-width="2.7" opacity="0.9"/>
<line x1="-33.10" y1="177.74" x2="-34.24" y2="183.84" stroke="#cd5c5c" stroke-width="1.6" opacity="0.22"/>
<circle cx="-29.50" cy="162.34" r="1.9" fill="#111"/>
<line x1="-23.07" y1="119.80" x2="-23.49" y2="121.96" stroke="#444" stroke-width="1.1"/>
<text class="lab" transform="translate(-37.02 181.97) rotate(100.50)" dy="0.25em" font-size="14.1" text-anchor="start" fill="#262626">Verticillium</text>
<line x1="-39.70" y1="166.64" x2="-41.04" y2="172.28" stroke="#1f8c1f" stroke-width="2.7" opacity="0.9"/>
<line x1="-42.67" y1="175.69" x2="-44.13" y2="181.72" stroke="#ba55d3" stroke-width="1.6" opacity="0.22"/>
<circle cx="-38.24" cy="160.51" r="1.9" fill="#111"/>
<line x1="-29.51" y1="118.38" x2="-30.05" y2="120.51" stroke="#444" stroke-width="1.1"/>
<text class="lab" transform="translate(-51.06 175.73) rotate(102.00)" dy="0.25em" font-size="14.1" text-anchor="start" fill="#262626">Codinaeopsis</text>
</g>
</g>
<g id="legendD">
<rect x="947.8" y="590.4" width="12.5" height="12.4" fill="#ff4500" stroke="#999" stroke-width="0.7"/>
<text x="965.6" y="602.6" font-size="18.5" fill="#333">SH</text>
<rect x="947.8" y="618.1" width="12.5" height="12.4" fill="#800080" stroke="#999" stroke-width="0.7"/>
<text x="965.6" y="630.3" font-size="18.5" fill="#333">SD</text>
<rect x="947.8" y="645.8" width="12.5" height="12.4" fill="#ffff00" stroke="#999" stroke-width="0.7"/>
<text x="965.6" y="658.0" font-size="18.5" fill="#333">RH</text>
<rect x="947.8" y="673.4" width="12.5" height="12.4" fill="#008000" stroke="#999" stroke-width="0.7"/>
<text x="965.6" y="685.6" font-size="18.5" fill="#333">RD</text>
<rect x="947.8" y="701.1" width="12.5" height="12.4" fill="#0000ff" stroke="#999" stroke-width="0.7"/>
<text x="965.6" y="713.3" font-size="18.5" fill="#333">LH</text>
<rect x="947.8" y="728.8" width="12.5" height="12.4" fill="#ff0000" stroke="#999" stroke-width="0.7"/>
<text x="965.6" y="741.0" font-size="18.5" fill="#333">LD</text>
</g>
</svg>
</body></html>
